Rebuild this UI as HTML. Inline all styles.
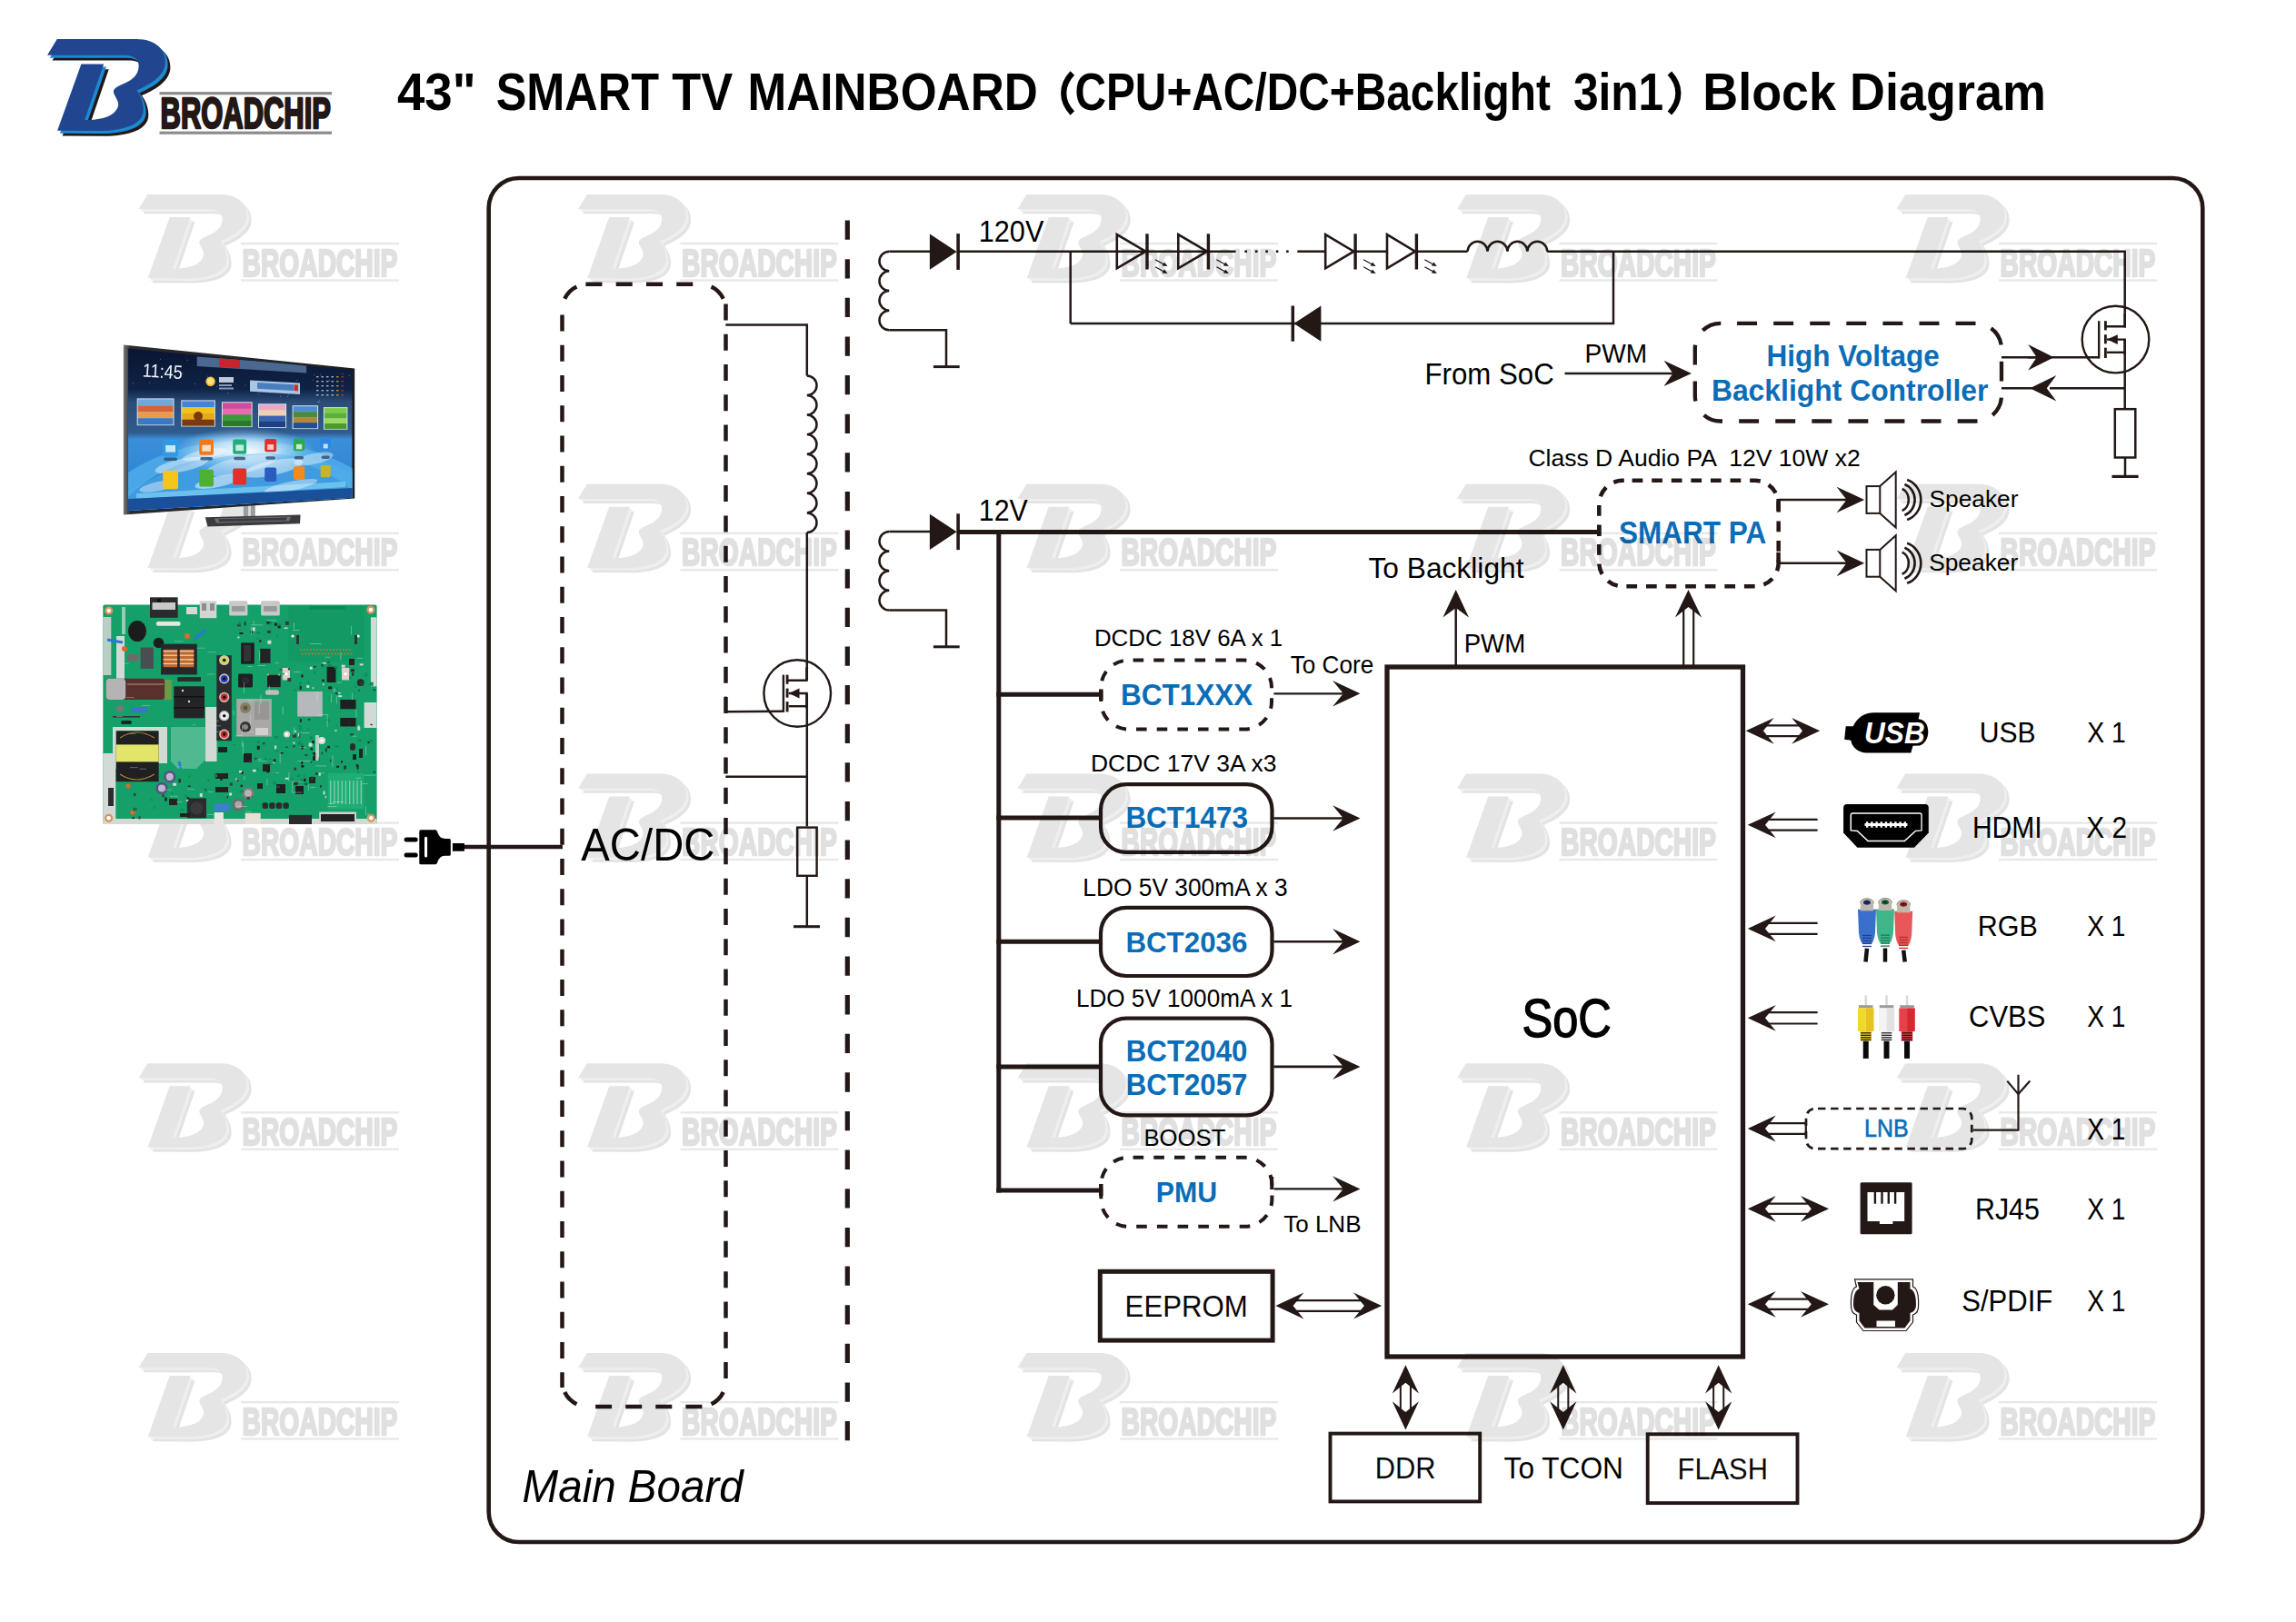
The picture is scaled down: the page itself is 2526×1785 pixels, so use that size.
<!DOCTYPE html><html><head><meta charset="utf-8"><style>html,body{margin:0;padding:0;background:#fff;width:2526px;height:1785px;overflow:hidden}svg{display:block}</style></head><body>
<svg width="2526" height="1785" viewBox="0 0 2526 1785" font-family="Liberation Sans, sans-serif">
<rect width="2526" height="1785" fill="#fff"/>
<defs>
<path id="bp" d="M240,110 L1420,110 C1700,110 1850,260 1850,450 C1850,640 1660,770 1425,870 C1490,960 1525,1060 1525,1160 C1525,1370 1260,1475 850,1475 L245,1470 L600,480 L935,480 L650,1315 C900,1315 1110,1260 1150,1100 C1165,1020 1080,950 1080,890 C1080,830 1180,800 1290,745 C1410,680 1455,600 1455,500 C1455,420 1380,350 1250,350 L95,350 Z"/>
<g id="wm">
<g transform="scale(0.067857) translate(-240,-110)">
<use href="#bp" transform="translate(75,75)" fill="#e3e3e3"/>
<use href="#bp" transform="translate(38,38)" fill="#efefef"/>
<use href="#bp" fill="#e5e5e5"/>
</g>
<rect x="102.7" y="53" width="174" height="2.4" fill="#e8e8e8"/>
<rect x="102.7" y="93.4" width="174" height="2.4" fill="#e8e8e8"/>
</g>
</defs>
<g transform="translate(62.75,43.1) scale(0.073964) translate(-240,-110)">
<use href="#bp" transform="translate(75,78)" fill="#231815"/>
<use href="#bp" transform="translate(38,40)" fill="#1b8ad2"/>
<use href="#bp" fill="#21468f"/>
</g>
<rect x="175.5" y="101.1" width="189.5" height="3.2" fill="#8c8c8c"/>
<rect x="175.5" y="144.6" width="189.5" height="3.2" fill="#8c8c8c"/>
<text x="176.6" y="141.3" font-size="47.384" font-weight="bold" font-style="normal" fill="#231815" textLength="187.29" lengthAdjust="spacingAndGlyphs" style="white-space:pre" stroke="#231815" stroke-width="2.6" stroke-linejoin="round">BROADCHIP</text>
<text x="437" y="121.2" font-size="57.413" font-weight="bold" font-style="normal" fill="#000" textLength="86.624" lengthAdjust="spacingAndGlyphs" style="white-space:pre">43&quot;</text>
<text x="545.7" y="121.2" font-size="57.413" font-weight="bold" font-style="normal" fill="#000" textLength="179.31" lengthAdjust="spacingAndGlyphs" style="white-space:pre">SMART</text>
<text x="739.3" y="121.2" font-size="57.413" font-weight="bold" font-style="normal" fill="#000" textLength="66.892" lengthAdjust="spacingAndGlyphs" style="white-space:pre">TV</text>
<text x="822.5" y="121.2" font-size="57.413" font-weight="bold" font-style="normal" fill="#000" textLength="319.285" lengthAdjust="spacingAndGlyphs" style="white-space:pre">MAINBOARD</text>
<path d="M1179.8,80.5 C1167,94 1167,111 1179.8,124.5" fill="none" stroke="#000" stroke-width="6.2"/>
<text x="1182.4" y="121.2" font-size="57.413" font-weight="bold" font-style="normal" fill="#000" textLength="523.592" lengthAdjust="spacingAndGlyphs" style="white-space:pre">CPU+AC/DC+Backlight</text>
<text x="1730.9" y="121.2" font-size="57.413" font-weight="bold" font-style="normal" fill="#000" textLength="99.299" lengthAdjust="spacingAndGlyphs" style="white-space:pre">3in1</text>
<path d="M1836.9,80.5 C1849.5,94 1849.5,111 1836.9,124.5" fill="none" stroke="#000" stroke-width="6.2"/>
<text x="1873.2" y="121.2" font-size="57.413" font-weight="bold" font-style="normal" fill="#000" textLength="377.824" lengthAdjust="spacingAndGlyphs" style="white-space:pre">Block Diagram</text>
<path d="M570.7,196 H2390.3 A33,33 0 0 1 2423.3,229 V1664 A33,33 0 0 1 2390.3,1697 H570.7 A33,33 0 0 1 537.7,1664 V229 A33,33 0 0 1 570.7,196 Z" fill="none" stroke="#231815" stroke-width="4.6"/>
<text x="574" y="1653.4" font-size="1" fill="none"> </text>
<text x="574.6" y="1653.4" font-size="50" font-weight="normal" font-style="italic" fill="#000" textLength="243.108" lengthAdjust="spacingAndGlyphs" style="white-space:pre">Main Board</text>
<line x1="644.4" y1="312.8" x2="772" y2="312.8" stroke="#231815" stroke-width="4.5" stroke-dasharray="18 15.3"/>
<line x1="798.5" y1="334.5" x2="798.5" y2="1522" stroke="#231815" stroke-width="4.5" stroke-dasharray="18 15.27"/>
<line x1="618.5" y1="346.4" x2="618.5" y2="1527" stroke="#231815" stroke-width="4.5" stroke-dasharray="18 15.25"/>
<line x1="655.1" y1="1548" x2="775" y2="1548" stroke="#231815" stroke-width="4.5" stroke-dasharray="18 15.1"/>
<path d="M621.24,328.719 A28,28 0 0 1 634.419,315.54" fill="none" stroke="#231815" stroke-width="4.5"/>
<path d="M782.581,315.54 A28,28 0 0 1 795.76,328.719" fill="none" stroke="#231815" stroke-width="4.5"/>
<path d="M795.76,1532.081 A28,28 0 0 1 782.581,1545.26" fill="none" stroke="#231815" stroke-width="4.5"/>
<path d="M634.419,1545.26 A28,28 0 0 1 621.24,1532.081" fill="none" stroke="#231815" stroke-width="4.5"/>
<text x="639.3" y="947.3" font-size="50.727" font-weight="normal" font-style="normal" fill="#000" textLength="147.216" lengthAdjust="spacingAndGlyphs" style="white-space:pre">AC/DC</text>
<line x1="932.3" y1="242.5" x2="932.3" y2="1590.8" stroke="#231815" stroke-width="5.2" stroke-dasharray="21.3 21.33"/>
<line x1="508" y1="932.1" x2="618.9" y2="932.1" stroke="#231815" stroke-width="4.5"/>
<polyline points="798.3,357.6 887.8,357.6 887.8,413.4" fill="none" stroke="#231815" stroke-width="2.5"/>
<path d="M887.8,413.4 A10.788,10.788 0 0 1 887.8,434.975 A10.788,10.788 0 0 1 887.8,456.55 A10.788,10.788 0 0 1 887.8,478.125 A10.788,10.788 0 0 1 887.8,499.7 A10.788,10.788 0 0 1 887.8,521.275 A10.788,10.788 0 0 1 887.8,542.85 A10.788,10.788 0 0 1 887.8,564.425 A10.788,10.788 0 0 1 887.8,586" fill="none" stroke="#231815" stroke-width="2.5"/>
<line x1="887.8" y1="586" x2="887.8" y2="748.9" stroke="#231815" stroke-width="2.5"/>
<circle cx="877.2" cy="763" r="36.8" fill="none" stroke="#231815" stroke-width="2.4"/>
<polyline points="887.4,734.4 887.4,748.7 866.4,748.7" fill="none" stroke="#231815" stroke-width="2.4"/>
<line x1="866.1" y1="742.6" x2="866.1" y2="752.8" stroke="#231815" stroke-width="2.8"/>
<line x1="866.1" y1="757.6" x2="866.1" y2="767.7" stroke="#231815" stroke-width="2.8"/>
<line x1="866.1" y1="772.1" x2="866.1" y2="783.4" stroke="#231815" stroke-width="2.8"/>
<line x1="861.9" y1="742.6" x2="861.9" y2="783.9" stroke="#231815" stroke-width="2.4"/>
<polyline points="867.7,763 887.4,763 887.4,779.4" fill="none" stroke="#231815" stroke-width="2.4"/>
<polygon points="867.9,763 879.5,757.6 879.5,768.4" fill="#231815"/>
<line x1="867.7" y1="777.2" x2="887.4" y2="777.2" stroke="#231815" stroke-width="2.4"/>
<polyline points="861.9,782.7 798.3,783.2 798.3,766.4" fill="none" stroke="#231815" stroke-width="2.4"/>
<line x1="887.8" y1="762.5" x2="887.8" y2="909.4" stroke="#231815" stroke-width="2.5"/>
<line x1="798.3" y1="854.8" x2="887.8" y2="854.8" stroke="#231815" stroke-width="2.5"/>
<rect x="877.2" y="910.6" width="21.4" height="53.2" fill="none" stroke="#231815" stroke-width="2.4"/>
<line x1="887.8" y1="963.7" x2="887.8" y2="1019.7" stroke="#231815" stroke-width="2.5"/>
<line x1="873" y1="1019.7" x2="902" y2="1019.7" stroke="#231815" stroke-width="3"/>
<path d="M978.3,276.7 A10.825,10.825 0 0 0 978.3,298.35 A10.825,10.825 0 0 0 978.3,320 A10.825,10.825 0 0 0 978.3,341.65 A10.825,10.825 0 0 0 978.3,363.3" fill="none" stroke="#231815" stroke-width="2.5"/>
<polyline points="978.3,363.3 1041,363.3 1041,403.6" fill="none" stroke="#231815" stroke-width="2.5"/>
<line x1="1026.9" y1="403.6" x2="1055.7" y2="403.6" stroke="#231815" stroke-width="3"/>
<line x1="978.3" y1="276.7" x2="1025" y2="276.7" stroke="#231815" stroke-width="2.5"/>
<polygon points="1022.9,257.5 1022.9,296.7 1052.6,277.1" fill="#231815"/>
<line x1="1054.1" y1="257.1" x2="1054.1" y2="296.9" stroke="#231815" stroke-width="3.6"/>
<text x="1076.8" y="266.4" font-size="32.413" font-weight="normal" font-style="normal" fill="#000" textLength="71.514" lengthAdjust="spacingAndGlyphs" style="white-space:pre">120V</text>
<path d="M978.3,584.9 A10.825,10.825 0 0 0 978.3,606.55 A10.825,10.825 0 0 0 978.3,628.2 A10.825,10.825 0 0 0 978.3,649.85 A10.825,10.825 0 0 0 978.3,671.5" fill="none" stroke="#231815" stroke-width="2.5"/>
<polyline points="978.3,671.5 1041,671.5 1041,711.8" fill="none" stroke="#231815" stroke-width="2.5"/>
<line x1="1026.9" y1="711.8" x2="1055.7" y2="711.8" stroke="#231815" stroke-width="3"/>
<line x1="978.3" y1="584.9" x2="1025" y2="584.9" stroke="#231815" stroke-width="2.5"/>
<polygon points="1022.9,565.7 1022.9,604.9 1052.6,585.3" fill="#231815"/>
<line x1="1054.1" y1="565.3" x2="1054.1" y2="605.1" stroke="#231815" stroke-width="3.6"/>
<text x="1076.8" y="572.7" font-size="32.413" font-weight="normal" font-style="normal" fill="#000" textLength="53.909" lengthAdjust="spacingAndGlyphs" style="white-space:pre">12V</text>
<line x1="1054" y1="276.7" x2="1359.5" y2="276.7" stroke="#231815" stroke-width="2.5"/>
<line x1="1177.7" y1="276.7" x2="1177.7" y2="356.1" stroke="#231815" stroke-width="2.5"/>
<polygon points="1228.8,258.1 1228.8,295.3 1260.4,276.7" fill="none" stroke="#231815" stroke-width="2.6" stroke-linejoin="miter"/>
<line x1="1262" y1="257.3" x2="1262" y2="296.5" stroke="#231815" stroke-width="3.4"/>
<line x1="1271" y1="285.7" x2="1282" y2="291.7" stroke="#231815" stroke-width="1.3"/>
<polygon points="1284.5,293.1 1278.5,292.5 1281,288.5" fill="#231815"/>
<line x1="1271" y1="293.7" x2="1282" y2="299.7" stroke="#231815" stroke-width="1.3"/>
<polygon points="1284.5,301.1 1278.5,300.5 1281,296.5" fill="#231815"/>
<polygon points="1296.3,258.1 1296.3,295.3 1328,276.7" fill="none" stroke="#231815" stroke-width="2.6" stroke-linejoin="miter"/>
<line x1="1329.4" y1="257.3" x2="1329.4" y2="296.5" stroke="#231815" stroke-width="3.4"/>
<line x1="1338.4" y1="285.7" x2="1349.4" y2="291.7" stroke="#231815" stroke-width="1.3"/>
<polygon points="1351.9,293.1 1345.9,292.5 1348.4,288.5" fill="#231815"/>
<line x1="1338.4" y1="293.7" x2="1349.4" y2="299.7" stroke="#231815" stroke-width="1.3"/>
<polygon points="1351.9,301.1 1345.9,300.5 1348.4,296.5" fill="#231815"/>
<rect x="1369.4" y="275.4" width="2.6" height="2.6" fill="#231815"/>
<rect x="1380.9" y="275.4" width="2.6" height="2.6" fill="#231815"/>
<rect x="1392.3" y="275.4" width="2.6" height="2.6" fill="#231815"/>
<rect x="1403.8" y="275.4" width="2.6" height="2.6" fill="#231815"/>
<rect x="1415.1" y="275.4" width="2.6" height="2.6" fill="#231815"/>
<line x1="1427.3" y1="276.7" x2="1458.2" y2="276.7" stroke="#231815" stroke-width="2.5"/>
<polygon points="1458.2,258.1 1458.2,295.3 1489.4,276.7" fill="none" stroke="#231815" stroke-width="2.6" stroke-linejoin="miter"/>
<line x1="1491.1" y1="257.3" x2="1491.1" y2="296.5" stroke="#231815" stroke-width="3.4"/>
<line x1="1500.1" y1="285.7" x2="1511.1" y2="291.7" stroke="#231815" stroke-width="1.3"/>
<polygon points="1513.6,293.1 1507.6,292.5 1510.1,288.5" fill="#231815"/>
<line x1="1500.1" y1="293.7" x2="1511.1" y2="299.7" stroke="#231815" stroke-width="1.3"/>
<polygon points="1513.6,301.1 1507.6,300.5 1510.1,296.5" fill="#231815"/>
<line x1="1491.1" y1="276.7" x2="1526" y2="276.7" stroke="#231815" stroke-width="2.5"/>
<polygon points="1526,258.1 1526,295.3 1556.9,276.7" fill="none" stroke="#231815" stroke-width="2.6" stroke-linejoin="miter"/>
<line x1="1558.4" y1="257.3" x2="1558.4" y2="296.5" stroke="#231815" stroke-width="3.4"/>
<line x1="1567.4" y1="285.7" x2="1578.4" y2="291.7" stroke="#231815" stroke-width="1.3"/>
<polygon points="1580.9,293.1 1574.9,292.5 1577.4,288.5" fill="#231815"/>
<line x1="1567.4" y1="293.7" x2="1578.4" y2="299.7" stroke="#231815" stroke-width="1.3"/>
<polygon points="1580.9,301.1 1574.9,300.5 1577.4,296.5" fill="#231815"/>
<line x1="1558.4" y1="276.7" x2="1614.6" y2="276.7" stroke="#231815" stroke-width="2.5"/>
<path d="M1614.6,276.7 A10.963,10.963 0 0 1 1636.525,276.7 A10.963,10.963 0 0 1 1658.45,276.7 A10.963,10.963 0 0 1 1680.375,276.7 A10.963,10.963 0 0 1 1702.3,276.7" fill="none" stroke="#231815" stroke-width="2.5"/>
<polyline points="1702.3,276.7 2337.7,276.7 2337.7,360.5" fill="none" stroke="#231815" stroke-width="2.5"/>
<polyline points="1177.7,356.1 1775,356.1 1775,276.7" fill="none" stroke="#231815" stroke-width="2.5"/>
<polygon points="1423.5,356.1 1453.4,336.5 1453.4,375.7" fill="#231815"/>
<line x1="1422.3" y1="336.5" x2="1422.3" y2="375.7" stroke="#231815" stroke-width="3.5"/>
<circle cx="2327.5" cy="373.6" r="36.8" fill="none" stroke="#231815" stroke-width="2.4"/>
<polyline points="2337.7,345 2337.7,359.3 2316.7,359.3" fill="none" stroke="#231815" stroke-width="2.4"/>
<line x1="2316.4" y1="353.2" x2="2316.4" y2="363.4" stroke="#231815" stroke-width="2.8"/>
<line x1="2316.4" y1="368.2" x2="2316.4" y2="378.3" stroke="#231815" stroke-width="2.8"/>
<line x1="2316.4" y1="382.7" x2="2316.4" y2="394" stroke="#231815" stroke-width="2.8"/>
<line x1="2309.2" y1="353.2" x2="2309.2" y2="394.5" stroke="#231815" stroke-width="2.4"/>
<polyline points="2318,373.6 2337.7,373.6 2337.7,390" fill="none" stroke="#231815" stroke-width="2.4"/>
<polygon points="2318.2,373.6 2329.8,368.2 2329.8,379" fill="#231815"/>
<line x1="2318" y1="387.8" x2="2337.7" y2="387.8" stroke="#231815" stroke-width="2.4"/>
<line x1="2309.2" y1="393.3" x2="2231" y2="393.3" stroke="#231815" stroke-width="2.5"/>
<polygon points="2259.7,393.3 2231.2,379 2240.7,393.3 2231.2,407.6" fill="#231815"/>
<line x1="2202" y1="393.3" x2="2240" y2="393.3" stroke="#231815" stroke-width="2.5"/>
<line x1="2337.7" y1="373.6" x2="2337.7" y2="450.2" stroke="#231815" stroke-width="2.5"/>
<line x1="2337.7" y1="427.2" x2="2255" y2="427.2" stroke="#231815" stroke-width="2.5"/>
<polygon points="2233.2,427.2 2262.4,441.4 2251.8,427.2 2262.4,413" fill="#231815"/>
<line x1="2202" y1="427.2" x2="2236" y2="427.2" stroke="#231815" stroke-width="2.5"/>
<rect x="2326.8" y="450.2" width="22.5" height="53.3" fill="none" stroke="#231815" stroke-width="2.5"/>
<line x1="2338" y1="503.5" x2="2338" y2="524.4" stroke="#231815" stroke-width="2.5"/>
<line x1="2323.5" y1="524.4" x2="2352.6" y2="524.4" stroke="#231815" stroke-width="3.2"/>
<path d="M1911.1,355.8 H2174 A28,28 0 0 1 2202,383.8 V435.5 A28,28 0 0 1 2174,463.5 H1892.8 A28,28 0 0 1 1864.8,435.5 V383.8 A28,28 0 0 1 1892.8,355.8 Z" fill="none" stroke="#231815" stroke-width="4.3" stroke-dasharray="21.936 18.147"/>
<text x="1943.5" y="402.5" font-size="33.285" font-weight="bold" font-style="normal" fill="#0b6db7" textLength="190.404" lengthAdjust="spacingAndGlyphs" style="white-space:pre">High Voltage</text>
<text x="1882.9" y="440.6" font-size="33.285" font-weight="bold" font-style="normal" fill="#0b6db7" textLength="304.49" lengthAdjust="spacingAndGlyphs" style="white-space:pre">Backlight Controller</text>
<text x="1567.5" y="423.1" font-size="33.285" font-weight="normal" font-style="normal" fill="#000" textLength="142.306" lengthAdjust="spacingAndGlyphs" style="white-space:pre">From SoC</text>
<text x="1743.6" y="398.7" font-size="30.378" font-weight="normal" font-style="normal" fill="#000" textLength="68.596" lengthAdjust="spacingAndGlyphs" style="white-space:pre">PWM</text>
<line x1="1721.5" y1="410.9" x2="1845" y2="410.9" stroke="#231815" stroke-width="2.5"/>
<polygon points="1861,410.9 1830.5,396.8 1840.5,410.9 1830.5,425" fill="#231815"/>
<line x1="1054" y1="585.4" x2="1759.3" y2="585.4" stroke="#231815" stroke-width="5"/>
<line x1="1098.8" y1="582.9" x2="1098.8" y2="1312.6" stroke="#231815" stroke-width="5"/>
<line x1="1096.3" y1="764.3" x2="1211.3" y2="764.3" stroke="#231815" stroke-width="5"/>
<line x1="1096.3" y1="899.9" x2="1211" y2="899.9" stroke="#231815" stroke-width="5"/>
<line x1="1096.3" y1="1036.2" x2="1211" y2="1036.2" stroke="#231815" stroke-width="5"/>
<line x1="1096.3" y1="1173.9" x2="1211" y2="1173.9" stroke="#231815" stroke-width="5"/>
<line x1="1096.3" y1="1310.1" x2="1211.3" y2="1310.1" stroke="#231815" stroke-width="5"/>
<path d="M1246.6,726.6 H1369 A30,30 0 0 1 1399,756.6 V772.5 A30,30 0 0 1 1369,802.5 H1241.3 A30,30 0 0 1 1211.3,772.5 V756.6 A30,30 0 0 1 1241.3,726.6 Z" fill="none" stroke="#231815" stroke-width="4" stroke-dasharray="11.571 11.081"/>
<line x1="1211.3" y1="758.4" x2="1211.3" y2="770.2" stroke="#231815" stroke-width="4.5"/>
<rect x="1211" y="863.2" width="188.5" height="74.7" rx="28" fill="none" stroke="#231815" stroke-width="4.2"/>
<rect x="1211" y="998.9" width="188.5" height="75.1" rx="28" fill="none" stroke="#231815" stroke-width="4.2"/>
<rect x="1211" y="1120.6" width="188.5" height="106.8" rx="28" fill="none" stroke="#231815" stroke-width="4.2"/>
<path d="M1246.6,1273.8 H1369.4 A30,30 0 0 1 1399.4,1303.8 V1319.8 A30,30 0 0 1 1369.4,1349.8 H1241.3 A30,30 0 0 1 1211.3,1319.8 V1303.8 A30,30 0 0 1 1241.3,1273.8 Z" fill="none" stroke="#231815" stroke-width="4" stroke-dasharray="11.596 11.104"/>
<line x1="1211.3" y1="1303" x2="1211.3" y2="1316" stroke="#231815" stroke-width="4.5"/>
<text x="1232.9" y="776" font-size="32.703" font-weight="bold" font-style="normal" fill="#0b6db7" textLength="145.411" lengthAdjust="spacingAndGlyphs" style="white-space:pre">BCT1XXX</text>
<text x="1238.4" y="911.3" font-size="32.849" font-weight="bold" font-style="normal" fill="#0b6db7" textLength="134.594" lengthAdjust="spacingAndGlyphs" style="white-space:pre">BCT1473</text>
<text x="1238.4" y="1048.2" font-size="32.267" font-weight="bold" font-style="normal" fill="#0b6db7" textLength="133.994" lengthAdjust="spacingAndGlyphs" style="white-space:pre">BCT2036</text>
<text x="1238.8" y="1167.6" font-size="33.285" font-weight="bold" font-style="normal" fill="#0b6db7" textLength="133.594" lengthAdjust="spacingAndGlyphs" style="white-space:pre">BCT2040</text>
<text x="1238.8" y="1205.4" font-size="33.285" font-weight="bold" font-style="normal" fill="#0b6db7" textLength="133.594" lengthAdjust="spacingAndGlyphs" style="white-space:pre">BCT2057</text>
<text x="1271.7" y="1323.4" font-size="31.831" font-weight="bold" font-style="normal" fill="#0b6db7" textLength="67.406" lengthAdjust="spacingAndGlyphs" style="white-space:pre">PMU</text>
<text x="1203.9" y="711.4" font-size="25.727" font-weight="normal" font-style="normal" fill="#000" textLength="207.312" lengthAdjust="spacingAndGlyphs" style="white-space:pre">DCDC 18V 6A x 1</text>
<text x="1200" y="849" font-size="26.308" font-weight="normal" font-style="normal" fill="#000" textLength="204.39" lengthAdjust="spacingAndGlyphs" style="white-space:pre">DCDC 17V 3A x3</text>
<text x="1191.3" y="986.4" font-size="27.035" font-weight="normal" font-style="normal" fill="#000" textLength="225.402" lengthAdjust="spacingAndGlyphs" style="white-space:pre">LDO 5V 300mA x 3</text>
<text x="1183.9" y="1108.3" font-size="27.035" font-weight="normal" font-style="normal" fill="#000" textLength="238.107" lengthAdjust="spacingAndGlyphs" style="white-space:pre">LDO 5V 1000mA x 1</text>
<text x="1258.4" y="1261.1" font-size="26.163" font-weight="normal" font-style="normal" fill="#000" textLength="90.087" lengthAdjust="spacingAndGlyphs" style="white-space:pre">BOOST</text>
<text x="1419.7" y="741.2" font-size="26.89" font-weight="normal" font-style="normal" fill="#000" textLength="91.513" lengthAdjust="spacingAndGlyphs" style="white-space:pre">To Core</text>
<text x="1412.2" y="1356.4" font-size="26.599" font-weight="normal" font-style="normal" fill="#000" textLength="85.308" lengthAdjust="spacingAndGlyphs" style="white-space:pre">To LNB</text>
<line x1="1401.4" y1="763.3" x2="1480" y2="763.3" stroke="#231815" stroke-width="2.2"/>
<polygon points="1496.5,763.3 1466.1,749.1 1477.9,763.3 1466.1,777.5" fill="#231815"/>
<line x1="1401.4" y1="900.5" x2="1480" y2="900.5" stroke="#231815" stroke-width="2.6"/>
<polygon points="1496.5,900.5 1466.1,886.3 1477.9,900.5 1466.1,914.7" fill="#231815"/>
<line x1="1401.4" y1="1036.2" x2="1480" y2="1036.2" stroke="#231815" stroke-width="2.6"/>
<polygon points="1496.5,1036.2 1466.1,1022 1477.9,1036.2 1466.1,1050.4" fill="#231815"/>
<line x1="1401.4" y1="1173.9" x2="1480" y2="1173.9" stroke="#231815" stroke-width="2.6"/>
<polygon points="1496.5,1173.9 1466.1,1159.7 1477.9,1173.9 1466.1,1188.1" fill="#231815"/>
<line x1="1401.4" y1="1308.4" x2="1480" y2="1308.4" stroke="#231815" stroke-width="2.4"/>
<polygon points="1496.5,1308.4 1466.1,1294.2 1477.9,1308.4 1466.1,1322.6" fill="#231815"/>
<line x1="1399.2" y1="1295" x2="1399.2" y2="1309" stroke="#231815" stroke-width="4"/>
<rect x="1210.3" y="1399.3" width="189.8" height="75.8" fill="none" stroke="#231815" stroke-width="5"/>
<text x="1237.6" y="1449.4" font-size="33.576" font-weight="normal" font-style="normal" fill="#0a0a0a" textLength="135.2" lengthAdjust="spacingAndGlyphs" style="white-space:pre">EEPROM</text>
<polygon points="1403.4,1437 1434.4,1451.4 1422.6,1437 1434.4,1422.6" fill="#231815"/>
<polygon points="1520.1,1437 1489.1,1422.6 1500.9,1437 1489.1,1451.4" fill="#231815"/>
<line x1="1419.224" y1="1431.2" x2="1501.9" y2="1431.2" stroke="#231815" stroke-width="2.2"/>
<line x1="1419.224" y1="1442.8" x2="1501.9" y2="1442.8" stroke="#231815" stroke-width="2.2"/>
<rect x="1526" y="734" width="391.5" height="759" fill="none" stroke="#231815" stroke-width="5.3"/>
<text x="1674.4" y="1140.6" font-size="59.593" font-weight="normal" font-style="normal" fill="#000" textLength="98.517" lengthAdjust="spacingAndGlyphs" style="white-space:pre" stroke="#000" stroke-width="1.4">SoC</text>
<line x1="1601.7" y1="733" x2="1601.7" y2="665" stroke="#231815" stroke-width="2.5"/>
<polygon points="1601.7,649.1 1587.4,679.4 1601.7,668.9 1616,679.4" fill="#231815"/>
<text x="1610.7" y="718.1" font-size="28.779" font-weight="normal" font-style="normal" fill="#000" textLength="67.496" lengthAdjust="spacingAndGlyphs" style="white-space:pre">PWM</text>
<text x="1505.5" y="635.5" font-size="31.831" font-weight="normal" font-style="normal" fill="#000" textLength="170.988" lengthAdjust="spacingAndGlyphs" style="white-space:pre">To Backlight</text>
<line x1="1852.2" y1="733" x2="1852.2" y2="670" stroke="#231815" stroke-width="2.2"/>
<line x1="1863.2" y1="733" x2="1863.2" y2="670" stroke="#231815" stroke-width="2.2"/>
<polygon points="1857.5,649.1 1842.9,679.4 1857.5,667.9 1872.1,679.4" fill="#231815"/>
<rect x="1463.5" y="1577.6" width="164.7" height="74.8" fill="none" stroke="#231815" stroke-width="3.9"/>
<rect x="1812.7" y="1578.3" width="164.8" height="75.8" fill="none" stroke="#231815" stroke-width="3.9"/>
<text x="1512.7" y="1627" font-size="32.849" font-weight="normal" font-style="normal" fill="#0a0a0a" textLength="66.785" lengthAdjust="spacingAndGlyphs" style="white-space:pre">DDR</text>
<text x="1845.6" y="1628.3" font-size="32.994" font-weight="normal" font-style="normal" fill="#0a0a0a" textLength="99.305" lengthAdjust="spacingAndGlyphs" style="white-space:pre">FLASH</text>
<text x="1654.6" y="1627" font-size="32.849" font-weight="normal" font-style="normal" fill="#000" textLength="131.298" lengthAdjust="spacingAndGlyphs" style="white-space:pre">To TCON</text>
<polygon points="1546.4,1502.3 1531.8,1533.5 1546.4,1521.7 1561,1533.5" fill="#231815"/>
<polygon points="1546.4,1573.5 1561,1542.3 1546.4,1554.1 1531.8,1542.3" fill="#231815"/>
<line x1="1540.85" y1="1519.7" x2="1540.85" y2="1556.1" stroke="#231815" stroke-width="2"/>
<line x1="1551.95" y1="1519.7" x2="1551.95" y2="1556.1" stroke="#231815" stroke-width="2"/>
<polygon points="1719.8,1502.3 1705.2,1533.5 1719.8,1521.7 1734.4,1533.5" fill="#231815"/>
<polygon points="1719.8,1573.5 1734.4,1542.3 1719.8,1554.1 1705.2,1542.3" fill="#231815"/>
<line x1="1714.25" y1="1519.7" x2="1714.25" y2="1556.1" stroke="#231815" stroke-width="2"/>
<line x1="1725.35" y1="1519.7" x2="1725.35" y2="1556.1" stroke="#231815" stroke-width="2"/>
<polygon points="1890.7,1502.3 1876.1,1533.5 1890.7,1521.7 1905.3,1533.5" fill="#231815"/>
<polygon points="1890.7,1573.5 1905.3,1542.3 1890.7,1554.1 1876.1,1542.3" fill="#231815"/>
<line x1="1885.15" y1="1519.7" x2="1885.15" y2="1556.1" stroke="#231815" stroke-width="2"/>
<line x1="1896.25" y1="1519.7" x2="1896.25" y2="1556.1" stroke="#231815" stroke-width="2"/>
<path d="M1795.6,528.8 H1930.7 A26,26 0 0 1 1956.7,554.8 V619.2 A26,26 0 0 1 1930.7,645.2 H1785.3 A26,26 0 0 1 1759.3,619.2 V554.8 A26,26 0 0 1 1785.3,528.8 Z" fill="none" stroke="#231815" stroke-width="4.5" stroke-dasharray="11.741 9.85"/>
<line x1="1759.3" y1="578" x2="1759.3" y2="590" stroke="#231815" stroke-width="4.5"/>
<text x="1781.1" y="597.6" font-size="34.157" font-weight="bold" font-style="normal" fill="#0b6db7" textLength="162.2" lengthAdjust="spacingAndGlyphs" style="white-space:pre">SMART PA</text>
<text x="1681.4" y="513.4" font-size="25.872" font-weight="normal" font-style="normal" fill="#000" textLength="365.305" lengthAdjust="spacingAndGlyphs" style="white-space:pre">Class D Audio PA  12V 10W x2</text>
<line x1="1956.6" y1="550" x2="2035" y2="550" stroke="#231815" stroke-width="2.5"/>
<polygon points="2051.2,550 2020.6,535.65 2031.6,550 2020.6,564.35" fill="#231815"/>
<line x1="1956.6" y1="549" x2="1956.6" y2="562" stroke="#231815" stroke-width="4.5"/>
<rect x="2053.5" y="535.1" width="14.8" height="29.8" fill="none" stroke="#231815" stroke-width="2"/>
<polyline points="2068.3,535.1 2085.7,519.5 2085.7,580.5 2068.3,564.9" fill="none" stroke="#231815" stroke-width="2"/>
<path d="M2092.65,538 A10.35,12.6 0 0 1 2092.65,562" fill="none" stroke="#231815" stroke-width="2.6"/>
<path d="M2095.4,533 A16.1,17.85 0 0 1 2095.4,567" fill="none" stroke="#231815" stroke-width="2.6"/>
<path d="M2098.15,528 A21.85,23.1 0 0 1 2098.15,572" fill="none" stroke="#231815" stroke-width="2.6"/>
<line x1="1956.6" y1="619.8" x2="2035" y2="619.8" stroke="#231815" stroke-width="2.5"/>
<polygon points="2051.2,619.8 2020.6,605.45 2031.6,619.8 2020.6,634.15" fill="#231815"/>
<line x1="1956.6" y1="618.8" x2="1956.6" y2="607.8" stroke="#231815" stroke-width="4.5"/>
<rect x="2053.5" y="604.9" width="14.8" height="29.8" fill="none" stroke="#231815" stroke-width="2"/>
<polyline points="2068.3,604.9 2085.7,589.3 2085.7,650.3 2068.3,634.7" fill="none" stroke="#231815" stroke-width="2"/>
<path d="M2092.65,607.8 A10.35,12.6 0 0 1 2092.65,631.8" fill="none" stroke="#231815" stroke-width="2.6"/>
<path d="M2095.4,602.8 A16.1,17.85 0 0 1 2095.4,636.8" fill="none" stroke="#231815" stroke-width="2.6"/>
<path d="M2098.15,597.8 A21.85,23.1 0 0 1 2098.15,641.8" fill="none" stroke="#231815" stroke-width="2.6"/>
<text x="2122.5" y="557.9" font-size="26.599" font-weight="normal" font-style="normal" fill="#000" textLength="97.991" lengthAdjust="spacingAndGlyphs" style="white-space:pre">Speaker</text>
<text x="2122.2" y="627.6" font-size="26.599" font-weight="normal" font-style="normal" fill="#000" textLength="97.991" lengthAdjust="spacingAndGlyphs" style="white-space:pre">Speaker</text>
<polygon points="1920.7,804.3 1951.7,818.7 1939.9,804.3 1951.7,789.9" fill="#231815"/>
<polygon points="2002.2,804.3 1971.2,789.9 1983,804.3 1971.2,818.7" fill="#231815"/>
<line x1="1936.503" y1="798.45" x2="1984" y2="798.45" stroke="#231815" stroke-width="2.2"/>
<line x1="1936.503" y1="810.15" x2="1984" y2="810.15" stroke="#231815" stroke-width="2.2"/>
<text x="2177.8" y="817.2" font-size="31.977" font-weight="normal" font-style="normal" fill="#000" textLength="61.905" lengthAdjust="spacingAndGlyphs" style="white-space:pre">USB</text>
<text x="2296.3" y="817.2" font-size="31.977" font-weight="normal" font-style="normal" fill="#000" textLength="42.6" lengthAdjust="spacingAndGlyphs" style="white-space:pre">X 1</text>
<polygon points="1922.8,907.8 1953.8,922.2 1942,907.8 1953.8,893.4" fill="#231815"/>
<line x1="1938.603" y1="901.95" x2="1999.6" y2="901.95" stroke="#231815" stroke-width="2.2"/>
<line x1="1938.603" y1="913.65" x2="1999.6" y2="913.65" stroke="#231815" stroke-width="2.2"/>
<text x="2169.9" y="922.2" font-size="32.558" font-weight="normal" font-style="normal" fill="#000" textLength="76.806" lengthAdjust="spacingAndGlyphs" style="white-space:pre">HDMI</text>
<text x="2295.2" y="922.2" font-size="32.558" font-weight="normal" font-style="normal" fill="#000" textLength="44.8" lengthAdjust="spacingAndGlyphs" style="white-space:pre">X 2</text>
<polygon points="1922.8,1021.9 1953.8,1036.3 1942,1021.9 1953.8,1007.5" fill="#231815"/>
<line x1="1938.542" y1="1015.9" x2="1999.6" y2="1015.9" stroke="#231815" stroke-width="2.2"/>
<line x1="1938.542" y1="1027.9" x2="1999.6" y2="1027.9" stroke="#231815" stroke-width="2.2"/>
<text x="2175.7" y="1030" font-size="31.977" font-weight="normal" font-style="normal" fill="#000" textLength="66.1" lengthAdjust="spacingAndGlyphs" style="white-space:pre">RGB</text>
<text x="2296.3" y="1030" font-size="31.977" font-weight="normal" font-style="normal" fill="#000" textLength="42.2" lengthAdjust="spacingAndGlyphs" style="white-space:pre">X 1</text>
<polygon points="1922.8,1120.3 1953.8,1134.7 1942,1120.3 1953.8,1105.9" fill="#231815"/>
<line x1="1938.46" y1="1114.1" x2="1999.6" y2="1114.1" stroke="#231815" stroke-width="2.2"/>
<line x1="1938.46" y1="1126.5" x2="1999.6" y2="1126.5" stroke="#231815" stroke-width="2.2"/>
<text x="2166.1" y="1129.7" font-size="33.285" font-weight="normal" font-style="normal" fill="#000" textLength="84.305" lengthAdjust="spacingAndGlyphs" style="white-space:pre">CVBS</text>
<text x="2296.3" y="1129.7" font-size="32.558" font-weight="normal" font-style="normal" fill="#000" textLength="42.2" lengthAdjust="spacingAndGlyphs" style="white-space:pre">X 1</text>
<polygon points="1922.8,1242 1953.8,1256.4 1942,1242 1953.8,1227.6" fill="#231815"/>
<line x1="1938.603" y1="1236.15" x2="1986.8" y2="1236.15" stroke="#231815" stroke-width="2.2"/>
<line x1="1938.603" y1="1247.85" x2="1986.8" y2="1247.85" stroke="#231815" stroke-width="2.2"/>
<line x1="1986.8" y1="1234.5" x2="1986.8" y2="1249.5" stroke="#231815" stroke-width="2.2"/>
<path d="M2000,1220 H2159.3 A10,10 0 0 1 2169.3,1230 V1254.2 A10,10 0 0 1 2159.3,1264.2 H1997 A10,10 0 0 1 1987,1254.2 V1230 A10,10 0 0 1 1997,1220 Z" fill="none" stroke="#231815" stroke-width="2.7" stroke-dasharray="8.475 5.584"/>
<text x="2051.1" y="1250.9" font-size="26.744" font-weight="normal" font-style="normal" fill="#0b6db7" textLength="48.508" lengthAdjust="spacingAndGlyphs" style="white-space:pre" stroke="#0b6db7" stroke-width="0.6">LNB</text>
<polyline points="2170.8,1243.6 2220.5,1243.6 2220.5,1182.8" fill="none" stroke="#231815" stroke-width="2.2"/>
<polyline points="2208.3,1189.6 2220.5,1204.1 2233.3,1189.6" fill="none" stroke="#231815" stroke-width="2.2"/>
<text x="2296.3" y="1253.9" font-size="32.558" font-weight="normal" font-style="normal" fill="#000" textLength="42.2" lengthAdjust="spacingAndGlyphs" style="white-space:pre">X 1</text>
<polygon points="1922.8,1330.3 1953.8,1344.7 1942,1330.3 1953.8,1315.9" fill="#231815"/>
<polygon points="2012,1330.3 1981,1315.9 1992.8,1330.3 1981,1344.7" fill="#231815"/>
<line x1="1938.685" y1="1324.65" x2="1993.8" y2="1324.65" stroke="#231815" stroke-width="2.2"/>
<line x1="1938.685" y1="1335.95" x2="1993.8" y2="1335.95" stroke="#231815" stroke-width="2.2"/>
<text x="2172.9" y="1341.8" font-size="32.558" font-weight="normal" font-style="normal" fill="#000" textLength="71.115" lengthAdjust="spacingAndGlyphs" style="white-space:pre">RJ45</text>
<text x="2296.3" y="1341.8" font-size="32.558" font-weight="normal" font-style="normal" fill="#000" textLength="42.2" lengthAdjust="spacingAndGlyphs" style="white-space:pre">X 1</text>
<polygon points="1922.8,1435.3 1953.8,1449.7 1942,1435.3 1953.8,1420.9" fill="#231815"/>
<polygon points="2012,1435.3 1981,1420.9 1992.8,1435.3 1981,1449.7" fill="#231815"/>
<line x1="1938.685" y1="1429.65" x2="1993.8" y2="1429.65" stroke="#231815" stroke-width="2.2"/>
<line x1="1938.685" y1="1440.95" x2="1993.8" y2="1440.95" stroke="#231815" stroke-width="2.2"/>
<text x="2158.2" y="1442.7" font-size="32.849" font-weight="normal" font-style="normal" fill="#000" textLength="100.09" lengthAdjust="spacingAndGlyphs" style="white-space:pre">S/PDIF</text>
<text x="2296.3" y="1442.7" font-size="32.849" font-weight="normal" font-style="normal" fill="#000" textLength="42.2" lengthAdjust="spacingAndGlyphs" style="white-space:pre">X 1</text>
<path d="M2030.7,799.2 L2038.8,799.2 C2043,790 2051,784.2 2062,784.2 L2112.1,784.2 L2110.6,791.3 C2117,791.8 2121.3,797 2121.3,805.5 C2121.3,812 2118,818.5 2112,820.5 L2104.5,820.8 L2102.4,828.4 L2053.6,828.4 C2044,828.4 2037.5,822 2036.3,814.7 L2029.2,813.7 Z" fill="#000"/>
<text x="2051" y="817.7" font-size="33.285" font-weight="bold" font-style="italic" fill="#fff" textLength="66.711" lengthAdjust="spacingAndGlyphs" style="white-space:pre" stroke="#000" stroke-width="0.8" paint-order="stroke">USB</text>
<path d="M2032.1,884.9 H2117.8 Q2121.8,884.9 2121.8,888.9 V916.4 L2106,932.7 H2043.4 L2028.1,916.4 V888.9 Q2028.1,884.9 2032.1,884.9 Z" fill="#000"/>
<path d="M2038.3,895.1 H2112.1 Q2114.1,895.1 2114.1,897.1 V913.9 L2107.5,914.4 L2095.3,925.6 H2055.1 L2043.4,914.4 L2036.3,913.9 V897.1 Q2036.3,895.1 2038.3,895.1 Z" fill="none" stroke="#fff" stroke-width="1.5"/>
<rect x="2051.5" y="906" width="47" height="3" fill="#fff"/>
<rect x="2053" y="904.3" width="2.4" height="6.4" fill="#fff"/>
<rect x="2058.2" y="904.3" width="2.4" height="6.4" fill="#fff"/>
<rect x="2063.4" y="904.3" width="2.4" height="6.4" fill="#fff"/>
<rect x="2068.6" y="904.3" width="2.4" height="6.4" fill="#fff"/>
<rect x="2073.8" y="904.3" width="2.4" height="6.4" fill="#fff"/>
<rect x="2079" y="904.3" width="2.4" height="6.4" fill="#fff"/>
<rect x="2084.2" y="904.3" width="2.4" height="6.4" fill="#fff"/>
<rect x="2089.4" y="904.3" width="2.4" height="6.4" fill="#fff"/>
<rect x="2094.6" y="904.3" width="2.4" height="6.4" fill="#fff"/>
<path d="M2054,1043.8 L2052.5,1058.6" stroke="#111" stroke-width="4.5"/>
<path d="M2044,1000.8 h20 l-1,26 q-1,8 -4,12 h-10 q-3,-4 -4,-12 z" fill="#3a6fcc"/>
<rect x="2049" y="1028.8" width="10" height="1.3" fill="#1d3f8f"/>
<rect x="2049" y="1031.8" width="10" height="1.3" fill="#1d3f8f"/>
<rect x="2049" y="1034.8" width="10" height="1.3" fill="#1d3f8f"/>
<rect x="2049" y="1037.8" width="10" height="1.3" fill="#1d3f8f"/>
<rect x="2049" y="1040.8" width="10" height="1.3" fill="#1d3f8f"/>
<ellipse cx="2054" cy="993.3" rx="7.2" ry="4.5" fill="#c9c4b8" stroke="#8a857a" stroke-width="1"/>
<rect x="2046.8" y="993.3" width="14.4" height="9" fill="#bdb8ac"/>
<ellipse cx="2054" cy="993.1" rx="4" ry="2.6" fill="#1e2a6e"/>
<ellipse cx="2054" cy="993.1" rx="1.6" ry="1" fill="#222"/>
<path d="M2074,1043.5 L2074,1058.6" stroke="#111" stroke-width="4.5"/>
<path d="M2064,1000.5 h20 l-1,26 q-1,8 -4,12 h-10 q-3,-4 -4,-12 z" fill="#3fb58a"/>
<rect x="2069" y="1028.5" width="10" height="1.3" fill="#1c7a55"/>
<rect x="2069" y="1031.5" width="10" height="1.3" fill="#1c7a55"/>
<rect x="2069" y="1034.5" width="10" height="1.3" fill="#1c7a55"/>
<rect x="2069" y="1037.5" width="10" height="1.3" fill="#1c7a55"/>
<rect x="2069" y="1040.5" width="10" height="1.3" fill="#1c7a55"/>
<ellipse cx="2074" cy="993" rx="7.2" ry="4.5" fill="#c9c4b8" stroke="#8a857a" stroke-width="1"/>
<rect x="2066.8" y="993" width="14.4" height="9" fill="#bdb8ac"/>
<ellipse cx="2074" cy="992.8" rx="4" ry="2.6" fill="#0e5a3a"/>
<ellipse cx="2074" cy="992.8" rx="1.6" ry="1" fill="#222"/>
<path d="M2094.2,1045.8 L2095.7,1058.6" stroke="#111" stroke-width="4.5"/>
<path d="M2084.2,1002.8 h20 l-1,26 q-1,8 -4,12 h-10 q-3,-4 -4,-12 z" fill="#e8585a"/>
<rect x="2089.2" y="1030.8" width="10" height="1.3" fill="#b52c2e"/>
<rect x="2089.2" y="1033.8" width="10" height="1.3" fill="#b52c2e"/>
<rect x="2089.2" y="1036.8" width="10" height="1.3" fill="#b52c2e"/>
<rect x="2089.2" y="1039.8" width="10" height="1.3" fill="#b52c2e"/>
<rect x="2089.2" y="1042.8" width="10" height="1.3" fill="#b52c2e"/>
<ellipse cx="2094.2" cy="995.3" rx="7.2" ry="4.5" fill="#c9c4b8" stroke="#8a857a" stroke-width="1"/>
<rect x="2087" y="995.3" width="14.4" height="9" fill="#bdb8ac"/>
<ellipse cx="2094.2" cy="995.1" rx="4" ry="2.6" fill="#8a1b1d"/>
<ellipse cx="2094.2" cy="995.1" rx="1.6" ry="1" fill="#222"/>
<rect x="2051.55" y="1095.5" width="2.4" height="11" fill="#d8d8d8"/>
<rect x="2045" y="1106.2" width="15.5" height="3.2" fill="#9a9a9a"/>
<rect x="2044" y="1109.4" width="8.75" height="25.6" fill="#f2d82a"/>
<rect x="2052.75" y="1109.4" width="8.75" height="25.6" fill="#e8c21e"/>
<rect x="2046.5" y="1135" width="12.5" height="10.7" fill="#f2d82a"/>
<rect x="2047" y="1136.2" width="11.5" height="1.2" fill="#111"/>
<rect x="2047" y="1138.7" width="11.5" height="1.2" fill="#111"/>
<rect x="2047" y="1141.2" width="11.5" height="1.2" fill="#111"/>
<rect x="2047" y="1143.7" width="11.5" height="1.2" fill="#111"/>
<rect x="2049.75" y="1145.7" width="6" height="19.2" fill="#0a0a0a"/>
<rect x="2074.35" y="1095.5" width="2.4" height="11" fill="#d8d8d8"/>
<rect x="2067.8" y="1106.2" width="15.5" height="3.2" fill="#9a9a9a"/>
<rect x="2066.8" y="1109.4" width="8.75" height="25.6" fill="#f4f4f4"/>
<rect x="2075.55" y="1109.4" width="8.75" height="25.6" fill="#e2e2e2"/>
<rect x="2069.3" y="1135" width="12.5" height="10.7" fill="#f4f4f4"/>
<rect x="2069.8" y="1136.2" width="11.5" height="1.2" fill="#111"/>
<rect x="2069.8" y="1138.7" width="11.5" height="1.2" fill="#111"/>
<rect x="2069.8" y="1141.2" width="11.5" height="1.2" fill="#111"/>
<rect x="2069.8" y="1143.7" width="11.5" height="1.2" fill="#111"/>
<rect x="2072.55" y="1145.7" width="6" height="19.2" fill="#0a0a0a"/>
<rect x="2096.85" y="1095.5" width="2.4" height="11" fill="#d8d8d8"/>
<rect x="2090.3" y="1106.2" width="15.5" height="3.2" fill="#9a9a9a"/>
<rect x="2089.3" y="1109.4" width="8.75" height="25.6" fill="#e8404a"/>
<rect x="2098.05" y="1109.4" width="8.75" height="25.6" fill="#d42a2f"/>
<rect x="2091.8" y="1135" width="12.5" height="10.7" fill="#e8404a"/>
<rect x="2092.3" y="1136.2" width="11.5" height="1.2" fill="#111"/>
<rect x="2092.3" y="1138.7" width="11.5" height="1.2" fill="#111"/>
<rect x="2092.3" y="1141.2" width="11.5" height="1.2" fill="#111"/>
<rect x="2092.3" y="1143.7" width="11.5" height="1.2" fill="#111"/>
<rect x="2095.05" y="1145.7" width="6" height="19.2" fill="#0a0a0a"/>
<rect x="2046.6" y="1301.2" width="57" height="57" rx="1.5" fill="#231815"/>
<path d="M2054.5,1311.9 H2095.2 V1343.9 H2082.4 V1347.1 H2067.9 V1343.9 H2054.5 Z" fill="#fff"/>
<rect x="2061.7" y="1311.9" width="2.4" height="12.8" fill="#231815"/>
<rect x="2069.3" y="1311.9" width="2.4" height="12.8" fill="#231815"/>
<rect x="2076.6" y="1311.9" width="2.4" height="12.8" fill="#231815"/>
<rect x="2083.9" y="1311.9" width="2.4" height="12.8" fill="#231815"/>
<path d="M2040.5,1407.8 H2104.5 V1416 Q2111,1418 2110.6,1436 Q2111,1445 2104.5,1447 V1455 L2097,1464.5 H2050 L2042.5,1455 V1447 Q2036,1445 2036.5,1436 Q2036,1418 2042.5,1416 Z" fill="#fff" stroke="#231815" stroke-width="1.2"/>
<path d="M2043.5,1411 H2101.5 V1418.5 Q2108,1420 2108,1436 Q2108,1443 2101.5,1445 V1453.5 L2095.5,1461.5 H2051.5 L2045.5,1453.5 V1445 Q2039,1443 2039,1436 Q2039,1420 2045.5,1418.5 Z" fill="#231815"/>
<path d="M2061.3,1411 H2087.8 V1436 L2082,1441.5 H2067.5 L2061.3,1436 Z" fill="#fff"/>
<circle cx="2074.4" cy="1425.3" r="10.2" fill="#231815"/>
<rect x="2064.5" y="1453.5" width="20.5" height="6.5" fill="#fff"/>
<rect x="444.6" y="921.4" width="15.1" height="5.1" fill="#000" rx="2.5"/>
<rect x="444.6" y="938.4" width="15.1" height="5.1" fill="#000" rx="2.5"/>
<path d="M462.8,913.3 H479 Q480.5,913.3 481,915 Q482.5,920 485,921.8 Q487,922.9 490,922.9 H494.3 Q495.8,922.9 495.8,924.4 V940.2 Q495.8,941.7 494.3,941.7 H490 Q487,941.7 485,943 Q482.5,945 481,949.5 Q480.5,951.2 479,951.2 H462.8 Q461.3,951.2 461.3,949.7 V914.8 Q461.3,913.3 462.8,913.3 Z" fill="#000"/>
<rect x="467" y="920.8" width="3.1" height="22.7" fill="#fff" rx="1.5"/>
<rect x="497.9" y="928" width="13" height="8.7" fill="#000"/>
<g style="mix-blend-mode:multiply">
<use href="#wm" x="162.3" y="213.9"/>
<text x="266.6" y="303.5" font-size="42.442" font-weight="bold" font-style="normal" fill="#e0e0e0" textLength="170.791" lengthAdjust="spacingAndGlyphs" style="white-space:pre" stroke="#e0e0e0" stroke-width="2.6" stroke-linejoin="round">BROADCHIP</text>
<use href="#wm" x="645.8" y="213.9"/>
<text x="750.1" y="303.5" font-size="42.442" font-weight="bold" font-style="normal" fill="#e0e0e0" textLength="170.791" lengthAdjust="spacingAndGlyphs" style="white-space:pre" stroke="#e0e0e0" stroke-width="2.6" stroke-linejoin="round">BROADCHIP</text>
<use href="#wm" x="1129.3" y="213.9"/>
<text x="1233.6" y="303.5" font-size="42.442" font-weight="bold" font-style="normal" fill="#e0e0e0" textLength="170.791" lengthAdjust="spacingAndGlyphs" style="white-space:pre" stroke="#e0e0e0" stroke-width="2.6" stroke-linejoin="round">BROADCHIP</text>
<use href="#wm" x="1612.8" y="213.9"/>
<text x="1717.1" y="303.5" font-size="42.442" font-weight="bold" font-style="normal" fill="#e0e0e0" textLength="170.791" lengthAdjust="spacingAndGlyphs" style="white-space:pre" stroke="#e0e0e0" stroke-width="2.6" stroke-linejoin="round">BROADCHIP</text>
<use href="#wm" x="2096.3" y="213.9"/>
<text x="2200.6" y="303.5" font-size="42.442" font-weight="bold" font-style="normal" fill="#e0e0e0" textLength="170.791" lengthAdjust="spacingAndGlyphs" style="white-space:pre" stroke="#e0e0e0" stroke-width="2.6" stroke-linejoin="round">BROADCHIP</text>
<use href="#wm" x="162.3" y="532.65"/>
<text x="266.6" y="622.25" font-size="42.442" font-weight="bold" font-style="normal" fill="#e0e0e0" textLength="170.791" lengthAdjust="spacingAndGlyphs" style="white-space:pre" stroke="#e0e0e0" stroke-width="2.6" stroke-linejoin="round">BROADCHIP</text>
<use href="#wm" x="645.8" y="532.65"/>
<text x="750.1" y="622.25" font-size="42.442" font-weight="bold" font-style="normal" fill="#e0e0e0" textLength="170.791" lengthAdjust="spacingAndGlyphs" style="white-space:pre" stroke="#e0e0e0" stroke-width="2.6" stroke-linejoin="round">BROADCHIP</text>
<use href="#wm" x="1129.3" y="532.65"/>
<text x="1233.6" y="622.25" font-size="42.442" font-weight="bold" font-style="normal" fill="#e0e0e0" textLength="170.791" lengthAdjust="spacingAndGlyphs" style="white-space:pre" stroke="#e0e0e0" stroke-width="2.6" stroke-linejoin="round">BROADCHIP</text>
<use href="#wm" x="1612.8" y="532.65"/>
<text x="1717.1" y="622.25" font-size="42.442" font-weight="bold" font-style="normal" fill="#e0e0e0" textLength="170.791" lengthAdjust="spacingAndGlyphs" style="white-space:pre" stroke="#e0e0e0" stroke-width="2.6" stroke-linejoin="round">BROADCHIP</text>
<use href="#wm" x="2096.3" y="532.65"/>
<text x="2200.6" y="622.25" font-size="42.442" font-weight="bold" font-style="normal" fill="#e0e0e0" textLength="170.791" lengthAdjust="spacingAndGlyphs" style="white-space:pre" stroke="#e0e0e0" stroke-width="2.6" stroke-linejoin="round">BROADCHIP</text>
<use href="#wm" x="162.3" y="851.4"/>
<text x="266.6" y="941" font-size="42.442" font-weight="bold" font-style="normal" fill="#e0e0e0" textLength="170.791" lengthAdjust="spacingAndGlyphs" style="white-space:pre" stroke="#e0e0e0" stroke-width="2.6" stroke-linejoin="round">BROADCHIP</text>
<use href="#wm" x="645.8" y="851.4"/>
<text x="750.1" y="941" font-size="42.442" font-weight="bold" font-style="normal" fill="#e0e0e0" textLength="170.791" lengthAdjust="spacingAndGlyphs" style="white-space:pre" stroke="#e0e0e0" stroke-width="2.6" stroke-linejoin="round">BROADCHIP</text>
<use href="#wm" x="1129.3" y="851.4"/>
<text x="1233.6" y="941" font-size="42.442" font-weight="bold" font-style="normal" fill="#e0e0e0" textLength="170.791" lengthAdjust="spacingAndGlyphs" style="white-space:pre" stroke="#e0e0e0" stroke-width="2.6" stroke-linejoin="round">BROADCHIP</text>
<use href="#wm" x="1612.8" y="851.4"/>
<text x="1717.1" y="941" font-size="42.442" font-weight="bold" font-style="normal" fill="#e0e0e0" textLength="170.791" lengthAdjust="spacingAndGlyphs" style="white-space:pre" stroke="#e0e0e0" stroke-width="2.6" stroke-linejoin="round">BROADCHIP</text>
<use href="#wm" x="2096.3" y="851.4"/>
<text x="2200.6" y="941" font-size="42.442" font-weight="bold" font-style="normal" fill="#e0e0e0" textLength="170.791" lengthAdjust="spacingAndGlyphs" style="white-space:pre" stroke="#e0e0e0" stroke-width="2.6" stroke-linejoin="round">BROADCHIP</text>
<use href="#wm" x="162.3" y="1170.15"/>
<text x="266.6" y="1259.75" font-size="42.442" font-weight="bold" font-style="normal" fill="#e0e0e0" textLength="170.791" lengthAdjust="spacingAndGlyphs" style="white-space:pre" stroke="#e0e0e0" stroke-width="2.6" stroke-linejoin="round">BROADCHIP</text>
<use href="#wm" x="645.8" y="1170.15"/>
<text x="750.1" y="1259.75" font-size="42.442" font-weight="bold" font-style="normal" fill="#e0e0e0" textLength="170.791" lengthAdjust="spacingAndGlyphs" style="white-space:pre" stroke="#e0e0e0" stroke-width="2.6" stroke-linejoin="round">BROADCHIP</text>
<use href="#wm" x="1129.3" y="1170.15"/>
<text x="1233.6" y="1259.75" font-size="42.442" font-weight="bold" font-style="normal" fill="#e0e0e0" textLength="170.791" lengthAdjust="spacingAndGlyphs" style="white-space:pre" stroke="#e0e0e0" stroke-width="2.6" stroke-linejoin="round">BROADCHIP</text>
<use href="#wm" x="1612.8" y="1170.15"/>
<text x="1717.1" y="1259.75" font-size="42.442" font-weight="bold" font-style="normal" fill="#e0e0e0" textLength="170.791" lengthAdjust="spacingAndGlyphs" style="white-space:pre" stroke="#e0e0e0" stroke-width="2.6" stroke-linejoin="round">BROADCHIP</text>
<use href="#wm" x="2096.3" y="1170.15"/>
<text x="2200.6" y="1259.75" font-size="42.442" font-weight="bold" font-style="normal" fill="#e0e0e0" textLength="170.791" lengthAdjust="spacingAndGlyphs" style="white-space:pre" stroke="#e0e0e0" stroke-width="2.6" stroke-linejoin="round">BROADCHIP</text>
<use href="#wm" x="162.3" y="1488.9"/>
<text x="266.6" y="1578.5" font-size="42.442" font-weight="bold" font-style="normal" fill="#e0e0e0" textLength="170.791" lengthAdjust="spacingAndGlyphs" style="white-space:pre" stroke="#e0e0e0" stroke-width="2.6" stroke-linejoin="round">BROADCHIP</text>
<use href="#wm" x="645.8" y="1488.9"/>
<text x="750.1" y="1578.5" font-size="42.442" font-weight="bold" font-style="normal" fill="#e0e0e0" textLength="170.791" lengthAdjust="spacingAndGlyphs" style="white-space:pre" stroke="#e0e0e0" stroke-width="2.6" stroke-linejoin="round">BROADCHIP</text>
<use href="#wm" x="1129.3" y="1488.9"/>
<text x="1233.6" y="1578.5" font-size="42.442" font-weight="bold" font-style="normal" fill="#e0e0e0" textLength="170.791" lengthAdjust="spacingAndGlyphs" style="white-space:pre" stroke="#e0e0e0" stroke-width="2.6" stroke-linejoin="round">BROADCHIP</text>
<use href="#wm" x="1612.8" y="1488.9"/>
<text x="1717.1" y="1578.5" font-size="42.442" font-weight="bold" font-style="normal" fill="#e0e0e0" textLength="170.791" lengthAdjust="spacingAndGlyphs" style="white-space:pre" stroke="#e0e0e0" stroke-width="2.6" stroke-linejoin="round">BROADCHIP</text>
<use href="#wm" x="2096.3" y="1488.9"/>
<text x="2200.6" y="1578.5" font-size="42.442" font-weight="bold" font-style="normal" fill="#e0e0e0" textLength="170.791" lengthAdjust="spacingAndGlyphs" style="white-space:pre" stroke="#e0e0e0" stroke-width="2.6" stroke-linejoin="round">BROADCHIP</text>
</g>
<defs><linearGradient id="scr" x1="0" y1="0" x2="0" y2="1"><stop offset="0" stop-color="#0a1530"/><stop offset="0.25" stop-color="#0f2347"/><stop offset="0.33" stop-color="#2b4c78"/><stop offset="0.52" stop-color="#2f5c8e"/><stop offset="0.56" stop-color="#3a8fd8"/><stop offset="0.8" stop-color="#2f86d6"/><stop offset="1" stop-color="#1b5fb0"/></linearGradient><radialGradient id="glow" cx="0.5" cy="0.5" r="0.5"><stop offset="0" stop-color="#ffffff" stop-opacity="1"/><stop offset="0.45" stop-color="#d8eefc" stop-opacity="0.8"/><stop offset="1" stop-color="#8fd0f8" stop-opacity="0"/></radialGradient><linearGradient id="bez" x1="0" y1="0" x2="1" y2="0"><stop offset="0" stop-color="#7a7c80"/><stop offset="0.03" stop-color="#2a2b2e"/><stop offset="1" stop-color="#1c1d20"/></linearGradient><clipPath id="scrclip"><polygon points="141,383.4 387.6,407.4 387.6,547.8 141,562"/></clipPath></defs>
<polygon points="267.9,554 280.8,554 280.8,569.5 267.9,569.5" fill="#9a9ca0"/>
<rect x="273" y="554" width="3" height="15" fill="#d8d8da"/>
<polygon points="225.8,569.2 330.6,566.6 330,576.3 228.4,579.5" fill="#3a3b3f"/>
<polygon points="236,570.5 320,568.6 318,573.6 238,575.6" fill="#6d6f74"/>
<polygon points="240,571.3 316,569.6 314.5,572.6 241.5,574.3" fill="#3a3b3f"/>
<polygon points="135.8,379.5 390.2,405.4 390.2,548.5 135.8,566.6" fill="url(#bez)"/>
<g clip-path="url(#scrclip)">
<rect x="141" y="383.4" width="246.6" height="178.6" fill="url(#scr)"/>
<ellipse cx="268" cy="590" rx="170" ry="105" fill="#4aa6e6"/>
<ellipse cx="268" cy="600" rx="150" ry="100" fill="#2f8ad8"/>
<ellipse cx="268" cy="497" rx="80" ry="26" fill="url(#glow)"/>
<path d="M141,540 Q268,470 388,520 L388,548 L141,562 Z" fill="#56b2ea" opacity="0.45"/>
<path d="M150,543 L380,530 L380,536 L150,549 Z" fill="#7ed0f4" opacity="0.7"/>
<ellipse cx="200" cy="512" rx="30" ry="7" fill="#ffffff" opacity="0.45" transform="rotate(-12 200 512)"/>
<ellipse cx="240" cy="530" rx="26" ry="6" fill="#ffffff" opacity="0.5" transform="rotate(-12 240 530)"/>
<ellipse cx="300" cy="515" rx="34" ry="8" fill="#ffffff" opacity="0.45" transform="rotate(-12 300 515)"/>
<ellipse cx="345" cy="505" rx="22" ry="6" fill="#ffffff" opacity="0.4" transform="rotate(-12 345 505)"/>
<ellipse cx="175" cy="535" rx="22" ry="5" fill="#ffffff" opacity="0.4" transform="rotate(-12 175 535)"/>
<ellipse cx="320" cy="535" rx="30" ry="5" fill="#ffffff" opacity="0.4" transform="rotate(-12 320 535)"/>
<ellipse cx="265" cy="512" rx="40" ry="9" fill="#ffffff" opacity="0.35" transform="rotate(-12 265 512)"/>
<ellipse cx="225" cy="500" rx="25" ry="5" fill="#ffffff" opacity="0.4" transform="rotate(-12 225 500)"/>
<path d="M141,549 L388,537 L388,548 L141,562 Z" fill="#1a4f9a"/>
<rect x="200.587" y="410.672" width="0.8" height="0.8" fill="#cfe0ff" opacity="0.7"/>
<rect x="232.529" y="414.838" width="0.8" height="0.8" fill="#cfe0ff" opacity="0.7"/>
<rect x="294.424" y="388.522" width="0.8" height="0.8" fill="#cfe0ff" opacity="0.7"/>
<rect x="146.187" y="421.315" width="0.8" height="0.8" fill="#cfe0ff" opacity="0.7"/>
<rect x="205.764" y="396.139" width="0.8" height="0.8" fill="#cfe0ff" opacity="0.7"/>
<rect x="383.946" y="413.219" width="0.8" height="0.8" fill="#cfe0ff" opacity="0.7"/>
<rect x="345.424" y="412.3" width="0.8" height="0.8" fill="#cfe0ff" opacity="0.7"/>
<rect x="297.654" y="393.128" width="0.8" height="0.8" fill="#cfe0ff" opacity="0.7"/>
<rect x="296.636" y="431.783" width="0.8" height="0.8" fill="#cfe0ff" opacity="0.7"/>
<rect x="269.61" y="423.547" width="0.8" height="0.8" fill="#cfe0ff" opacity="0.7"/>
<rect x="305.482" y="388.491" width="0.8" height="0.8" fill="#cfe0ff" opacity="0.7"/>
<rect x="326.492" y="418.092" width="0.8" height="0.8" fill="#cfe0ff" opacity="0.7"/>
<rect x="215.907" y="386.496" width="0.8" height="0.8" fill="#cfe0ff" opacity="0.7"/>
<rect x="352.458" y="412.326" width="0.8" height="0.8" fill="#cfe0ff" opacity="0.7"/>
<rect x="316.955" y="433.613" width="0.8" height="0.8" fill="#cfe0ff" opacity="0.7"/>
<rect x="315.819" y="435.879" width="0.8" height="0.8" fill="#cfe0ff" opacity="0.7"/>
<rect x="238.581" y="424.91" width="0.8" height="0.8" fill="#cfe0ff" opacity="0.7"/>
<rect x="250.598" y="432.408" width="0.8" height="0.8" fill="#cfe0ff" opacity="0.7"/>
<rect x="355.686" y="390.655" width="0.8" height="0.8" fill="#cfe0ff" opacity="0.7"/>
<rect x="175.904" y="394.861" width="0.8" height="0.8" fill="#cfe0ff" opacity="0.7"/>
<rect x="376.646" y="410.95" width="0.8" height="0.8" fill="#cfe0ff" opacity="0.7"/>
<rect x="294.649" y="401.182" width="0.8" height="0.8" fill="#cfe0ff" opacity="0.7"/>
<rect x="265.753" y="404.962" width="0.8" height="0.8" fill="#cfe0ff" opacity="0.7"/>
<rect x="227.92" y="413.718" width="0.8" height="0.8" fill="#cfe0ff" opacity="0.7"/>
<rect x="284.389" y="432.956" width="0.8" height="0.8" fill="#cfe0ff" opacity="0.7"/>
<rect x="308.04" y="435.807" width="0.8" height="0.8" fill="#cfe0ff" opacity="0.7"/>
<rect x="350.249" y="442.128" width="0.8" height="0.8" fill="#cfe0ff" opacity="0.7"/>
<rect x="305.448" y="393.891" width="0.8" height="0.8" fill="#cfe0ff" opacity="0.7"/>
<rect x="351.274" y="440.678" width="0.8" height="0.8" fill="#cfe0ff" opacity="0.7"/>
<rect x="361.936" y="418.273" width="0.8" height="0.8" fill="#cfe0ff" opacity="0.7"/>
<rect x="315.744" y="396.661" width="0.8" height="0.8" fill="#cfe0ff" opacity="0.7"/>
<rect x="344.249" y="417.822" width="0.8" height="0.8" fill="#cfe0ff" opacity="0.7"/>
<rect x="211.96" y="388.044" width="0.8" height="0.8" fill="#cfe0ff" opacity="0.7"/>
<rect x="349.654" y="442.019" width="0.8" height="0.8" fill="#cfe0ff" opacity="0.7"/>
<rect x="164.421" y="420.738" width="0.8" height="0.8" fill="#cfe0ff" opacity="0.7"/>
<rect x="242.332" y="392.552" width="0.8" height="0.8" fill="#cfe0ff" opacity="0.7"/>
<rect x="214.122" y="421.993" width="0.8" height="0.8" fill="#cfe0ff" opacity="0.7"/>
<rect x="354.21" y="387.56" width="0.8" height="0.8" fill="#cfe0ff" opacity="0.7"/>
<rect x="291.717" y="387.407" width="0.8" height="0.8" fill="#cfe0ff" opacity="0.7"/>
<rect x="316.863" y="403.305" width="0.8" height="0.8" fill="#cfe0ff" opacity="0.7"/>
<polygon points="216.7,392.5 337.1,401.2 337.1,410.5 216.7,403" fill="#4a6890"/>
<polygon points="241.3,394.3 264,396 264,405.4 241.3,403.8" fill="#c8242c"/>
<text x="156.5" y="414.5" font-size="21" fill="#f2f6fb" font-family="Liberation Sans" textLength="44" lengthAdjust="spacingAndGlyphs" transform="rotate(3.5 156.5 414.5)">11:45</text>
<circle cx="231.6" cy="419.7" r="5.2" fill="#f7c531"/><circle cx="231.6" cy="419.7" r="3.4" fill="#ffe27a"/>
<rect x="241" y="415" width="16" height="6" fill="#dfe8f2" opacity="0.85"/>
<rect x="241" y="423" width="14" height="2" fill="#bcd0e4" opacity="0.7"/>
<rect x="241" y="426.5" width="16" height="2" fill="#bcd0e4" opacity="0.7"/>
<polygon points="275,418.4 330,421.5 330,433.9 275,430.8" fill="#a9c6e2"/>
<polygon points="283,421 323,423.3 323,430 283,427.8" fill="#4a7fbf"/>
<polygon points="323.5,423.2 328,423.5 328,430.4 323.5,430.1" fill="#d8262c"/>
<rect x="348" y="414" width="2.5" height="1.4" fill="#c9d4e2" opacity="0.8"/>
<rect x="353.5" y="414" width="2.5" height="1.4" fill="#c9d4e2" opacity="0.8"/>
<rect x="359" y="414" width="2.5" height="1.4" fill="#c9d4e2" opacity="0.8"/>
<rect x="364.5" y="414" width="2.5" height="1.4" fill="#c9d4e2" opacity="0.8"/>
<rect x="370" y="414" width="2.5" height="1.4" fill="#e8b030" opacity="0.8"/>
<rect x="375.5" y="414" width="2.5" height="1.4" fill="#e03030" opacity="0.8"/>
<rect x="348" y="419" width="2.5" height="1.4" fill="#c9d4e2" opacity="0.8"/>
<rect x="353.5" y="419" width="2.5" height="1.4" fill="#c9d4e2" opacity="0.8"/>
<rect x="359" y="419" width="2.5" height="1.4" fill="#c9d4e2" opacity="0.8"/>
<rect x="364.5" y="419" width="2.5" height="1.4" fill="#c9d4e2" opacity="0.8"/>
<rect x="370" y="419" width="2.5" height="1.4" fill="#e8b030" opacity="0.8"/>
<rect x="375.5" y="419" width="2.5" height="1.4" fill="#e03030" opacity="0.8"/>
<rect x="348" y="424" width="2.5" height="1.4" fill="#c9d4e2" opacity="0.8"/>
<rect x="353.5" y="424" width="2.5" height="1.4" fill="#c9d4e2" opacity="0.8"/>
<rect x="359" y="424" width="2.5" height="1.4" fill="#c9d4e2" opacity="0.8"/>
<rect x="364.5" y="424" width="2.5" height="1.4" fill="#c9d4e2" opacity="0.8"/>
<rect x="370" y="424" width="2.5" height="1.4" fill="#e8b030" opacity="0.8"/>
<rect x="375.5" y="424" width="2.5" height="1.4" fill="#e03030" opacity="0.8"/>
<rect x="348" y="429" width="2.5" height="1.4" fill="#c9d4e2" opacity="0.8"/>
<rect x="353.5" y="429" width="2.5" height="1.4" fill="#c9d4e2" opacity="0.8"/>
<rect x="359" y="429" width="2.5" height="1.4" fill="#c9d4e2" opacity="0.8"/>
<rect x="364.5" y="429" width="2.5" height="1.4" fill="#c9d4e2" opacity="0.8"/>
<rect x="370" y="429" width="2.5" height="1.4" fill="#e8b030" opacity="0.8"/>
<rect x="375.5" y="429" width="2.5" height="1.4" fill="#e03030" opacity="0.8"/>
<rect x="348" y="434" width="2.5" height="1.4" fill="#c9d4e2" opacity="0.8"/>
<rect x="353.5" y="434" width="2.5" height="1.4" fill="#c9d4e2" opacity="0.8"/>
<rect x="359" y="434" width="2.5" height="1.4" fill="#c9d4e2" opacity="0.8"/>
<rect x="364.5" y="434" width="2.5" height="1.4" fill="#c9d4e2" opacity="0.8"/>
<rect x="370" y="434" width="2.5" height="1.4" fill="#e8b030" opacity="0.8"/>
<rect x="375.5" y="434" width="2.5" height="1.4" fill="#e03030" opacity="0.8"/>
<rect x="150.7" y="438.4" width="40.8" height="29.8" fill="#d8e2ea"/>
<rect x="151.7" y="439.4" width="38.8" height="7.15" fill="#6fa8dc"/>
<rect x="151.7" y="446.35" width="38.8" height="7.15" fill="#d2643a"/>
<rect x="151.7" y="453.3" width="38.8" height="7.15" fill="#e89a50"/>
<rect x="151.7" y="460.25" width="38.8" height="7.15" fill="#3a78c0"/>
<rect x="199.3" y="440.4" width="37.5" height="29.1" fill="#d8e2ea"/>
<rect x="200.3" y="441.4" width="35.5" height="6.975" fill="#3f86d6"/>
<rect x="200.3" y="448.175" width="35.5" height="6.975" fill="#f2c21c"/>
<rect x="200.3" y="454.95" width="35.5" height="6.975" fill="#e8a818"/>
<rect x="200.3" y="461.725" width="35.5" height="6.975" fill="#7a3a10"/>
<rect x="243.9" y="442.3" width="33.7" height="27.8" fill="#d8e2ea"/>
<rect x="244.9" y="443.3" width="31.7" height="6.65" fill="#d44a9a"/>
<rect x="244.9" y="449.75" width="31.7" height="6.65" fill="#e86ab0"/>
<rect x="244.9" y="456.2" width="31.7" height="6.65" fill="#3a9a3a"/>
<rect x="244.9" y="462.65" width="31.7" height="6.65" fill="#2a7a2a"/>
<rect x="284" y="444.3" width="31.1" height="26.5" fill="#d8e2ea"/>
<rect x="285" y="445.3" width="29.1" height="6.325" fill="#e9a8c8"/>
<rect x="285" y="451.425" width="29.1" height="6.325" fill="#f0d0b0"/>
<rect x="285" y="457.55" width="29.1" height="6.325" fill="#3a62b0"/>
<rect x="285" y="463.675" width="29.1" height="6.325" fill="#1e3f80"/>
<rect x="321.6" y="446.2" width="28.5" height="25.9" fill="#d8e2ea"/>
<rect x="322.6" y="447.2" width="26.5" height="6.175" fill="#4a90d0"/>
<rect x="322.6" y="453.175" width="26.5" height="6.175" fill="#4a8a3a"/>
<rect x="322.6" y="459.15" width="26.5" height="6.175" fill="#b08a3a"/>
<rect x="322.6" y="465.125" width="26.5" height="6.175" fill="#1f4f9a"/>
<rect x="355.9" y="448.1" width="26.5" height="24.6" fill="#d8e2ea"/>
<rect x="356.9" y="449.1" width="24.5" height="5.85" fill="#7ccc4a"/>
<rect x="356.9" y="454.75" width="24.5" height="5.85" fill="#5ab03a"/>
<rect x="356.9" y="460.4" width="24.5" height="5.85" fill="#9ad86a"/>
<rect x="356.9" y="466.05" width="24.5" height="5.85" fill="#4a9a2a"/>
<circle cx="218" cy="458" r="5" fill="#7a3a10"/>
<rect x="179.2" y="484" width="16.8" height="18.48" rx="2" fill="#2f9ae6"/>
<rect x="180.2" y="503.5" width="14.8" height="3.5" fill="#2a4a6a" rx="1.7" opacity="0.8"/>
<rect x="179.2" y="518" width="16.8" height="20.16" rx="2" fill="#f5c518"/>
<rect x="182.2" y="490" width="10.8" height="7.56" fill="#ffffff" opacity="0.75"/>
<rect x="219.3" y="483.7" width="15.6" height="17.16" rx="2" fill="#f07a1a"/>
<rect x="220.3" y="503.1" width="13.6" height="3.5" fill="#2a4a6a" rx="1.7" opacity="0.8"/>
<rect x="219.3" y="516.8" width="15.6" height="18.72" rx="2" fill="#4cb030"/>
<rect x="222.3" y="489.7" width="9.6" height="7.02" fill="#ffffff" opacity="0.75"/>
<rect x="256.2" y="483.4" width="14.9" height="16.39" rx="2" fill="#1fae7a"/>
<rect x="257.2" y="502.7" width="12.9" height="3.5" fill="#2a4a6a" rx="1.7" opacity="0.8"/>
<rect x="256.2" y="515.6" width="14.9" height="17.88" rx="2" fill="#e0302a"/>
<rect x="259.2" y="489.4" width="8.9" height="6.705" fill="#ffffff" opacity="0.75"/>
<rect x="291.2" y="483.1" width="12.9" height="14.19" rx="2" fill="#e0302a"/>
<rect x="292.2" y="502.3" width="10.9" height="3.5" fill="#2a4a6a" rx="1.7" opacity="0.8"/>
<rect x="291.2" y="514.4" width="12.9" height="15.48" rx="2" fill="#2a5cc0"/>
<rect x="294.2" y="489.1" width="6.9" height="5.805" fill="#ffffff" opacity="0.75"/>
<rect x="322.9" y="482.8" width="12.3" height="13.53" rx="2" fill="#2aaa4a"/>
<rect x="323.9" y="501.9" width="10.3" height="3.5" fill="#2a4a6a" rx="1.7" opacity="0.8"/>
<rect x="322.9" y="513.2" width="12.3" height="14.76" rx="2" fill="#f58a1a"/>
<rect x="325.9" y="488.8" width="6.3" height="5.535" fill="#ffffff" opacity="0.75"/>
<rect x="352.7" y="482.5" width="11" height="12.1" rx="2" fill="#2a86e0"/>
<rect x="353.7" y="501.5" width="9" height="3.5" fill="#2a4a6a" rx="1.7" opacity="0.8"/>
<rect x="352.7" y="512" width="11" height="13.2" rx="2" fill="#c8b428"/>
<rect x="355.7" y="488.5" width="5" height="4.95" fill="#ffffff" opacity="0.75"/>
</g>
<path d="M115,665.5 H412.5 Q414.6,665.5 414.6,667.5 V905 Q414.6,907 412.5,907 H115.5 Q113.3,907 113.3,905 V667.5 Q113.3,665.5 115,665.5 Z" fill="#14a068"/>
<rect x="113.3" y="901" width="301.3" height="6" fill="#d3dad6"/>
<rect x="113.3" y="679" width="9" height="64" fill="#b9cfc4"/>
<rect x="128" y="700" width="9" height="50" fill="#d3dad6"/>
<rect x="113.3" y="829" width="14" height="72" fill="#d3dad6"/>
<path d="M124,800 H184 V840 H174 V804 H128 V846 H124 Z" fill="#d3dad6"/>
<rect x="226" y="778" width="12.5" height="60" fill="#d3dad6"/>
<path d="M188,800 H226 V836 L216,846 H196 L188,838 Z" fill="#7fcfae" opacity="0.55"/>
<rect x="407.9" y="679.3" width="6.5" height="76" fill="#d3dad6"/>
<rect x="400.6" y="773" width="13.8" height="28" fill="#d3dad6"/>
<rect x="134" y="668" width="4" height="30" fill="#d3dad6" opacity="0.7"/>
<rect x="205" y="668" width="12" height="8" fill="#d3dad6"/>
<rect x="317.3" y="667" width="83" height="61" fill="#139a63"/>
<rect x="340" y="667" width="40" height="4" fill="#0f8a58"/>
<circle cx="331" cy="715" r="0.9" fill="#c8743a"/><circle cx="332.8" cy="719.5" r="0.9" fill="#c8743a"/>
<circle cx="334.6" cy="715" r="0.9" fill="#c8743a"/><circle cx="336.4" cy="719.5" r="0.9" fill="#c8743a"/>
<circle cx="338.2" cy="715" r="0.9" fill="#c8743a"/><circle cx="340" cy="719.5" r="0.9" fill="#c8743a"/>
<circle cx="341.8" cy="715" r="0.9" fill="#c8743a"/><circle cx="343.6" cy="719.5" r="0.9" fill="#c8743a"/>
<circle cx="345.4" cy="715" r="0.9" fill="#c8743a"/><circle cx="347.2" cy="719.5" r="0.9" fill="#c8743a"/>
<circle cx="349" cy="715" r="0.9" fill="#c8743a"/><circle cx="350.8" cy="719.5" r="0.9" fill="#c8743a"/>
<circle cx="352.6" cy="715" r="0.9" fill="#c8743a"/><circle cx="354.4" cy="719.5" r="0.9" fill="#c8743a"/>
<circle cx="356.2" cy="715" r="0.9" fill="#c8743a"/><circle cx="358" cy="719.5" r="0.9" fill="#c8743a"/>
<circle cx="359.8" cy="715" r="0.9" fill="#c8743a"/><circle cx="361.6" cy="719.5" r="0.9" fill="#c8743a"/>
<circle cx="363.4" cy="715" r="0.9" fill="#c8743a"/><circle cx="365.2" cy="719.5" r="0.9" fill="#c8743a"/>
<circle cx="367" cy="715" r="0.9" fill="#c8743a"/><circle cx="368.8" cy="719.5" r="0.9" fill="#c8743a"/>
<circle cx="370.6" cy="715" r="0.9" fill="#c8743a"/><circle cx="372.4" cy="719.5" r="0.9" fill="#c8743a"/>
<circle cx="374.2" cy="715" r="0.9" fill="#c8743a"/><circle cx="376" cy="719.5" r="0.9" fill="#c8743a"/>
<circle cx="377.8" cy="715" r="0.9" fill="#c8743a"/><circle cx="379.6" cy="719.5" r="0.9" fill="#c8743a"/>
<circle cx="381.4" cy="715" r="0.9" fill="#c8743a"/><circle cx="383.2" cy="719.5" r="0.9" fill="#c8743a"/>
<circle cx="385" cy="715" r="0.9" fill="#c8743a"/><circle cx="386.8" cy="719.5" r="0.9" fill="#c8743a"/>
<circle cx="322" cy="700" r="1.6" fill="#fff"/><circle cx="394.1" cy="700" r="1.6" fill="#fff"/>
<circle cx="119.7" cy="672" r="4.6" fill="#d9925a"/><circle cx="119.7" cy="672" r="2.3" fill="#fff"/>
<circle cx="407.9" cy="671.1" r="4.6" fill="#d9925a"/><circle cx="407.9" cy="671.1" r="2.3" fill="#fff"/>
<circle cx="119.6" cy="900.3" r="4.6" fill="#d9925a"/><circle cx="119.6" cy="900.3" r="2.3" fill="#fff"/>
<circle cx="408.3" cy="900.3" r="4.6" fill="#d9925a"/><circle cx="408.3" cy="900.3" r="2.3" fill="#fff"/>
<rect x="165" y="657.3" width="30.6" height="22.5" fill="#2a2b2d"/>
<rect x="167.5" y="663" width="25.5" height="8" fill="#c9c9c9"/>
<rect x="173" y="659" width="4" height="4" fill="#111"/>
<rect x="219.8" y="661.2" width="18.5" height="19" fill="#d4d4d4"/>
<rect x="222" y="664" width="5" height="8" fill="#8d8d8d"/>
<rect x="231" y="664" width="5" height="8" fill="#8d8d8d"/>
<rect x="252.2" y="661.2" width="20.2" height="16.4" fill="#c8c8c8" rx="1.5"/>
<rect x="255" y="667" width="14.6" height="6" fill="#9a9a9a"/>
<rect x="287.1" y="661.2" width="20.7" height="16.4" fill="#c8c8c8" rx="1.5"/>
<rect x="290" y="667" width="14.6" height="6" fill="#9a9a9a"/>
<rect x="171.9" y="684" width="26.7" height="4.8" fill="#e8e6e0" rx="2"/>
<ellipse cx="151" cy="694.5" rx="10" ry="11.5" fill="#1b1c1e"/>
<circle cx="174.5" cy="707.5" r="5.8" fill="#1b1c1e"/>
<rect x="154.6" y="712.6" width="14.2" height="23.3" fill="#4a4d52"/>
<rect x="140" y="720" width="12.9" height="7.7" fill="#6b6b6b" rx="2"/>
<circle cx="206" cy="700" r="3" fill="#e8642a"/><circle cx="137" cy="714" r="3" fill="#e8642a"/>
<path d="M118,704 L135,707" stroke="#2a78d0" stroke-width="3"/><path d="M214,703 L226,694" stroke="#2a78d0" stroke-width="3"/>
<rect x="177" y="708.7" width="39.8" height="33.7" fill="#26272a"/>
<rect x="179.6" y="714.7" width="15.5" height="19.5" fill="#c26a2e"/>
<rect x="197.8" y="714.7" width="15.5" height="19.5" fill="#c26a2e"/>
<rect x="179.6" y="716" width="15.5" height="1.2" fill="#e8d8c0"/>
<rect x="197.8" y="716" width="15.5" height="1.2" fill="#e8d8c0"/>
<rect x="179.6" y="720.6" width="15.5" height="1.2" fill="#e8d8c0"/>
<rect x="197.8" y="720.6" width="15.5" height="1.2" fill="#e8d8c0"/>
<rect x="179.6" y="725.2" width="15.5" height="1.2" fill="#e8d8c0"/>
<rect x="197.8" y="725.2" width="15.5" height="1.2" fill="#e8d8c0"/>
<rect x="179.6" y="729.8" width="15.5" height="1.2" fill="#e8d8c0"/>
<rect x="197.8" y="729.8" width="15.5" height="1.2" fill="#e8d8c0"/>
<rect x="195.2" y="745" width="25.8" height="5" fill="#2a2b2d"/>
<rect x="116.6" y="746.7" width="64.8" height="23.3" fill="#5a302c" rx="4"/>
<rect x="116.6" y="746.7" width="21.6" height="23.3" fill="#b4b4b4" rx="4"/>
<rect x="140" y="752" width="40" height="2" fill="#8a605a"/>
<rect x="181" y="748" width="8" height="22" fill="#8a9a3a" opacity="0.7"/>
<rect x="191.3" y="755.3" width="33.7" height="35" fill="#232427"/>
<rect x="191.3" y="766" width="33.7" height="1.5" fill="#111"/>
<rect x="191.3" y="778" width="33.7" height="1.5" fill="#111"/>
<circle cx="201" cy="760" r="1.2" fill="#ddd"/><circle cx="208" cy="772" r="1.2" fill="#ddd"/>
<circle cx="132" cy="780" r="4" fill="#777"/>
<rect x="144" y="778" width="18" height="6" fill="#3a72d0"/>
<rect x="124" y="788" width="30" height="1.6" fill="#333"/>
<rect x="133" y="793" width="12" height="4" fill="#222" rx="2"/>
<rect x="127.7" y="804.5" width="46.9" height="55.7" fill="#1f2022"/>
<rect x="127.7" y="819.4" width="46.9" height="19" fill="#e2e56a"/>
<path d="M132,812 Q150,800 170,812 M132,852 Q150,864 170,852" stroke="#b8822e" stroke-width="1.2" fill="none"/>
<circle cx="186.8" cy="854.7" r="6.6" fill="#5a4e8a"/><circle cx="186.8" cy="854.7" r="4" fill="#bcbcc8"/>
<circle cx="178" cy="867.4" r="6.6" fill="#5a4e8a"/><circle cx="178" cy="867.4" r="4" fill="#bcbcc8"/>
<circle cx="141" cy="865" r="2.6" fill="#e8642a"/><circle cx="146" cy="894" r="2.6" fill="#e8642a"/>
<path d="M197,838 L199,846" stroke="#2a78d0" stroke-width="3"/>
<rect x="119" y="867" width="6" height="20" fill="#2c2d30"/>
<rect x="238.3" y="721.2" width="16.5" height="94" fill="#2b2c30"/>
<circle cx="246.7" cy="726.5" r="5.6" fill="#c8c8c0"/><circle cx="246.7" cy="726.5" r="4" fill="#cfd84a"/><circle cx="246.7" cy="726.5" r="1.8" fill="#111"/>
<circle cx="246.7" cy="746.9" r="5.6" fill="#c8c8c0"/><circle cx="246.7" cy="746.9" r="4" fill="#2a3cc8"/><circle cx="246.7" cy="746.9" r="1.8" fill="#111"/>
<circle cx="246.7" cy="767.3" r="5.6" fill="#c8c8c0"/><circle cx="246.7" cy="767.3" r="4" fill="#d82a2c"/><circle cx="246.7" cy="767.3" r="1.8" fill="#111"/>
<circle cx="246.7" cy="787.7" r="5.6" fill="#c8c8c0"/><circle cx="246.7" cy="787.7" r="4" fill="#f2f2f2"/><circle cx="246.7" cy="787.7" r="1.8" fill="#111"/>
<circle cx="246.7" cy="808.1" r="5.6" fill="#c8c8c0"/><circle cx="246.7" cy="808.1" r="4" fill="#d82a2c"/><circle cx="246.7" cy="808.1" r="1.8" fill="#111"/>
<rect x="260.2" y="769" width="38.7" height="41.6" fill="#a8a8a6"/>
<circle cx="270" cy="779" r="6" fill="#8b7d62"/><circle cx="270" cy="779" r="2.5" fill="#555"/>
<circle cx="270" cy="800" r="6" fill="#333"/><circle cx="270" cy="800" r="3" fill="#888"/>
<rect x="280" y="772" width="16" height="20" fill="#8a8a8a" opacity="0.6"/>
<rect x="281" y="801" width="14" height="8" fill="#cfcfcf"/>
<rect x="265.1" y="707.4" width="14.7" height="23.3" fill="#1c1c1e"/>
<rect x="268" y="710" width="8" height="18" fill="#333"/>
<rect x="286.2" y="713.9" width="11.3" height="15.9" fill="#232325"/>
<rect x="262.1" y="741.5" width="15.9" height="15.1" fill="#1f1f21" rx="1.5"/>
<circle cx="270" cy="749" r="4" fill="#2c2c2e"/>
<rect x="294" y="742.8" width="14.7" height="13.3" fill="#1e1f21"/>
<rect x="294" y="741.5" width="2" height="2" fill="#e89a5a"/>
<rect x="306" y="741.5" width="2" height="2" fill="#e89a5a"/>
<rect x="291.9" y="759.2" width="15.1" height="5.6" fill="#bdbdbd" rx="2.5"/>
<rect x="310.8" y="735" width="8.2" height="13.4" fill="#dcd2c6"/>
<circle cx="314.9" cy="741.7" r="1.8" fill="#fff"/>
<rect x="376" y="735" width="8.2" height="13.4" fill="#dcd2c6"/>
<circle cx="380.1" cy="741.7" r="1.8" fill="#fff"/>
<rect x="359.6" y="733.7" width="9.9" height="17.3" fill="#1e1f21"/>
<rect x="384" y="725" width="6" height="7" fill="#222"/>
<rect x="327.2" y="760.9" width="27.6" height="27.6" fill="#b6b9bb"/>
<rect x="374.3" y="770" width="17.2" height="10.3" fill="#1e1f21"/>
<rect x="374.3" y="790" width="17.2" height="9.5" fill="#1e1f21"/>
<circle cx="396.7" cy="751.2" r="3.9" fill="#2a2b2d"/>
<rect x="390" y="699" width="3" height="10" fill="#333"/>
<rect x="326" y="699" width="3" height="10" fill="#333"/>
<rect x="360.8" y="850.7" width="39.4" height="39.3" fill="#1eae74"/>
<rect x="363" y="859" width="1.4" height="26" fill="#bcd8c8" opacity="0.6"/>
<rect x="367.2" y="859" width="1.4" height="26" fill="#bcd8c8" opacity="0.6"/>
<rect x="371.4" y="859" width="1.4" height="26" fill="#bcd8c8" opacity="0.6"/>
<rect x="375.6" y="859" width="1.4" height="26" fill="#bcd8c8" opacity="0.6"/>
<rect x="379.8" y="859" width="1.4" height="26" fill="#bcd8c8" opacity="0.6"/>
<rect x="384" y="859" width="1.4" height="26" fill="#bcd8c8" opacity="0.6"/>
<rect x="388.2" y="859" width="1.4" height="26" fill="#bcd8c8" opacity="0.6"/>
<rect x="392.4" y="859" width="1.4" height="26" fill="#bcd8c8" opacity="0.6"/>
<rect x="396.6" y="859" width="1.4" height="26" fill="#bcd8c8" opacity="0.6"/>
<rect x="288.6" y="883.3" width="6.4" height="6.7" fill="#2a2b2d" rx="2"/>
<rect x="296.2" y="883.3" width="6.4" height="6.7" fill="#2a2b2d" rx="2"/>
<rect x="303.8" y="883.3" width="6.4" height="6.7" fill="#2a2b2d" rx="2"/>
<rect x="311.4" y="883.3" width="6.4" height="6.7" fill="#2a2b2d" rx="2"/>
<circle cx="273" cy="873" r="6.8" fill="#7a7a7a"/><circle cx="273" cy="873" r="4" fill="#b5b5b5"/>
<circle cx="262.2" cy="885.6" r="6.8" fill="#6a6a6a"/><circle cx="262.2" cy="885.6" r="4" fill="#a8a8a8"/>
<rect x="205.8" y="878.5" width="21.1" height="21.8" fill="#2a2b2d"/>
<circle cx="216.3" cy="889.4" r="7" fill="#3a3a3c"/>
<rect x="235.7" y="884.6" width="17" height="8.2" fill="#3c7ed0"/>
<rect x="235.7" y="894" width="10.2" height="13" fill="#e8e6e0"/>
<rect x="269.7" y="894.8" width="17" height="12.2" fill="#e8e0d4"/>
<rect x="318" y="896.9" width="25" height="10.1" fill="#2a2b2d"/>
<rect x="351.2" y="893.5" width="40.8" height="12.9" fill="#cfcfcf"/>
<rect x="353" y="896" width="37" height="8" fill="#222"/>
<rect x="304" y="863" width="10" height="10" fill="#1e1f21"/>
<rect x="325" y="865" width="9" height="9" fill="#1e1f21"/>
<rect x="283" y="862" width="6" height="6" fill="#222"/>
<rect x="240" y="822" width="10" height="6" fill="#1e1f21"/>
<rect x="268" y="829" width="9" height="10" fill="#1e1f21"/>
<rect x="289" y="841" width="8" height="8" fill="#222"/>
<rect x="340" y="855" width="7" height="7" fill="#222"/>
<rect x="344" y="828" width="4" height="9" fill="#222"/>
<rect x="388" y="830" width="4" height="6" fill="#222"/>
<rect x="237" y="851" width="14" height="6" fill="#222"/>
<rect x="237" y="866" width="14" height="6" fill="#222"/>
<rect x="186" y="879" width="9" height="7" fill="#222"/>
<rect x="198" y="895" width="12" height="4" fill="#222"/>
<rect x="385" y="818" width="6" height="8" fill="#2a2b2d" rx="3"/>
<rect x="395" y="824" width="4" height="10" fill="#222"/>
<rect x="347" y="809" width="4" height="28" fill="#e6e6e6" opacity="0.7"/>
<circle cx="354" cy="815" r="4" fill="#ddd"/><circle cx="354" cy="815" r="1.6" fill="#fff"/>
<circle cx="315.5" cy="808" r="3.5" fill="#e0d6cc"/><circle cx="315.5" cy="808" r="1.5" fill="#fff"/>
<rect x="276.782" y="685.62" width="1.4" height="1.4" fill="#0e8a58"/>
<rect x="263.46" y="695.987" width="4" height="2" fill="#1e1f21"/>
<rect x="262.985" y="692.036" width="2" height="1.4" fill="#0e8a58"/>
<rect x="282.622" y="701.844" width="1.4" height="2" fill="#0e8a58"/>
<rect x="294.391" y="704.745" width="4" height="4" fill="#cfd8d2"/>
<rect x="260.876" y="687.306" width="4" height="2" fill="#3a3b3d"/>
<rect x="282.31" y="694.976" width="4" height="2.5" fill="#0e8a58"/>
<rect x="305.335" y="686.337" width="4" height="4" fill="#0e8a58"/>
<rect x="268.897" y="684.338" width="1.4" height="4" fill="#1e1f21"/>
<rect x="293.903" y="693.914" width="4" height="3" fill="#3a3b3d"/>
<rect x="285.005" y="704.163" width="2.5" height="2.5" fill="#2a2b2d"/>
<rect x="304.074" y="698.776" width="2" height="1.4" fill="#0e8a58"/>
<rect x="275.414" y="693.883" width="2.5" height="3" fill="#3a3b3d"/>
<rect x="293.32" y="683.757" width="4" height="3" fill="#2a2b2d"/>
<rect x="301.914" y="685.648" width="3" height="3" fill="#1e1f21"/>
<rect x="313.797" y="683.863" width="4" height="4" fill="#3a3b3d"/>
<rect x="277.727" y="690.404" width="3" height="4" fill="#cfd8d2"/>
<rect x="261.988" y="684.246" width="2.5" height="3" fill="#0e8a58"/>
<rect x="296.521" y="683.456" width="2.5" height="4" fill="#0e8a58"/>
<rect x="305.672" y="688.83" width="3" height="2.5" fill="#1e1f21"/>
<rect x="312.558" y="690.531" width="4" height="1.4" fill="#cfd8d2"/>
<rect x="261.419" y="700.438" width="2" height="2" fill="#cfd8d2"/>
<rect x="343.786" y="756.143" width="1.4" height="2" fill="#cfd8d2"/>
<rect x="344.984" y="738.335" width="2" height="3" fill="#0e8a58"/>
<rect x="331.183" y="742.459" width="2.5" height="3" fill="#2a2b2d"/>
<rect x="316.903" y="735.287" width="2" height="2" fill="#1e1f21"/>
<rect x="354.316" y="747.674" width="2.5" height="2.5" fill="#1e1f21"/>
<rect x="316.316" y="746.038" width="4" height="4" fill="#3a3b3d"/>
<rect x="406.747" y="750.715" width="4" height="4" fill="#0e8a58"/>
<rect x="375.734" y="731.62" width="4" height="3" fill="#cfd8d2"/>
<rect x="344.686" y="733.106" width="3" height="1.4" fill="#2a2b2d"/>
<rect x="307.543" y="736.263" width="2" height="1.4" fill="#3a3b3d"/>
<rect x="367.281" y="733.071" width="4" height="2" fill="#0e8a58"/>
<rect x="311.364" y="740.908" width="1.4" height="1.4" fill="#2a2b2d"/>
<rect x="368.776" y="734.457" width="2.5" height="2.5" fill="#0e8a58"/>
<rect x="340.786" y="733.685" width="3" height="3" fill="#cfd8d2"/>
<rect x="354.189" y="732.577" width="1.4" height="2.5" fill="#0e8a58"/>
<rect x="329.653" y="754.866" width="2" height="4" fill="#1e1f21"/>
<rect x="322.984" y="758.561" width="2.5" height="2" fill="#0e8a58"/>
<rect x="360.835" y="730.811" width="4" height="2.5" fill="#0e8a58"/>
<rect x="396.692" y="750.886" width="2.5" height="4" fill="#3a3b3d"/>
<rect x="401.725" y="740.671" width="2" height="4" fill="#0e8a58"/>
<rect x="387.254" y="739.89" width="2" height="4" fill="#2a2b2d"/>
<rect x="390.281" y="754.55" width="2" height="2" fill="#0e8a58"/>
<rect x="355.192" y="751.93" width="1.4" height="2.5" fill="#cfd8d2"/>
<rect x="329.028" y="750.776" width="2.5" height="3" fill="#0e8a58"/>
<rect x="410.66" y="758.65" width="2.5" height="1.4" fill="#2a2b2d"/>
<rect x="311.442" y="744.102" width="2.5" height="2" fill="#cfd8d2"/>
<rect x="369.895" y="757.009" width="1.4" height="3" fill="#0e8a58"/>
<rect x="338.529" y="749.294" width="1.4" height="3" fill="#0e8a58"/>
<rect x="384.016" y="744.341" width="2" height="3" fill="#0e8a58"/>
<rect x="337.242" y="754.025" width="3" height="3" fill="#cfd8d2"/>
<rect x="383.256" y="795.095" width="2" height="2" fill="#2a2b2d"/>
<rect x="303.085" y="825.449" width="3" height="2" fill="#0e8a58"/>
<rect x="392.569" y="848.818" width="2.5" height="2" fill="#0e8a58"/>
<rect x="361.408" y="791.284" width="1.4" height="4" fill="#0e8a58"/>
<rect x="404.566" y="816.029" width="2" height="2" fill="#1e1f21"/>
<rect x="328.205" y="807.578" width="2" height="4" fill="#3a3b3d"/>
<rect x="329.049" y="815.141" width="2" height="1.4" fill="#0e8a58"/>
<rect x="339.624" y="817.49" width="4" height="4" fill="#cfd8d2"/>
<rect x="392.64" y="842.69" width="2" height="4" fill="#2a2b2d"/>
<rect x="358.633" y="791.122" width="3" height="2" fill="#0e8a58"/>
<rect x="300.44" y="837.95" width="2" height="2" fill="#cfd8d2"/>
<rect x="369.339" y="797.22" width="1.4" height="2.5" fill="#0e8a58"/>
<rect x="358.055" y="823.327" width="1.4" height="4" fill="#1e1f21"/>
<rect x="327.831" y="806.615" width="1.4" height="4" fill="#cfd8d2"/>
<rect x="362.914" y="835.6" width="1.4" height="3" fill="#3a3b3d"/>
<rect x="368.603" y="820.333" width="4" height="2" fill="#0e8a58"/>
<rect x="331.045" y="820.489" width="3" height="4" fill="#2a2b2d"/>
<rect x="378.312" y="842.592" width="2.5" height="4" fill="#2a2b2d"/>
<rect x="394.08" y="798.228" width="1.4" height="3" fill="#cfd8d2"/>
<rect x="335.39" y="830.269" width="3" height="1.4" fill="#2a2b2d"/>
<rect x="374.981" y="837.036" width="2" height="2.5" fill="#2a2b2d"/>
<rect x="328.348" y="798.235" width="3" height="2" fill="#0e8a58"/>
<rect x="406.68" y="813.895" width="3" height="2" fill="#0e8a58"/>
<rect x="393.234" y="799.688" width="3" height="4" fill="#cfd8d2"/>
<rect x="337.981" y="801.745" width="2.5" height="1.4" fill="#0e8a58"/>
<rect x="340.987" y="810.279" width="3" height="3" fill="#0e8a58"/>
<rect x="302.025" y="809.89" width="4" height="2.5" fill="#0e8a58"/>
<rect x="407.607" y="796.771" width="2" height="1.4" fill="#1e1f21"/>
<rect x="329.743" y="792.375" width="2" height="2.5" fill="#2a2b2d"/>
<rect x="391.815" y="840.975" width="2.5" height="3" fill="#2a2b2d"/>
<rect x="360.099" y="820.887" width="3" height="2.5" fill="#1e1f21"/>
<rect x="331.255" y="837.975" width="2" height="3" fill="#1e1f21"/>
<rect x="330.119" y="791.01" width="1.4" height="2.5" fill="#1e1f21"/>
<rect x="368.116" y="803.344" width="2.5" height="1.4" fill="#cfd8d2"/>
<rect x="301.293" y="849.658" width="3" height="2.5" fill="#0e8a58"/>
<rect x="314.473" y="821.615" width="2" height="1.4" fill="#2a2b2d"/>
<rect x="329.332" y="800.869" width="2.5" height="2.5" fill="#0e8a58"/>
<rect x="385.064" y="807.398" width="4" height="2" fill="#3a3b3d"/>
<rect x="338.864" y="791.09" width="2.5" height="1.4" fill="#1e1f21"/>
<rect x="302.065" y="820.339" width="2" height="4" fill="#cfd8d2"/>
<rect x="327.516" y="816.823" width="3" height="3" fill="#0e8a58"/>
<rect x="393.477" y="813.585" width="4" height="2.5" fill="#0e8a58"/>
<rect x="324.1" y="803.774" width="2" height="2" fill="#cfd8d2"/>
<rect x="410.817" y="848.913" width="2" height="1.4" fill="#1e1f21"/>
<rect x="370.05" y="842.791" width="3" height="2" fill="#1e1f21"/>
<rect x="263.871" y="869.682" width="4" height="2.5" fill="#0e8a58"/>
<rect x="280.432" y="834.049" width="3" height="2" fill="#2a2b2d"/>
<rect x="283.249" y="815.235" width="2.5" height="2.5" fill="#0e8a58"/>
<rect x="288.971" y="817.239" width="2.5" height="2" fill="#3a3b3d"/>
<rect x="274.211" y="836.797" width="1.4" height="3" fill="#3a3b3d"/>
<rect x="307.79" y="828.064" width="4" height="1.4" fill="#1e1f21"/>
<rect x="282.738" y="820.834" width="3" height="4" fill="#1e1f21"/>
<rect x="296.368" y="834.477" width="2" height="1.4" fill="#0e8a58"/>
<rect x="355.552" y="870.461" width="2" height="4" fill="#cfd8d2"/>
<rect x="335.253" y="861.844" width="3" height="2" fill="#3a3b3d"/>
<rect x="331.036" y="856.809" width="1.4" height="4" fill="#0e8a58"/>
<rect x="300.071" y="860.568" width="4" height="2" fill="#0e8a58"/>
<rect x="334.051" y="851.951" width="1.4" height="4" fill="#0e8a58"/>
<rect x="326.704" y="860.066" width="2" height="1.4" fill="#1e1f21"/>
<rect x="259.396" y="856.413" width="1.4" height="3" fill="#cfd8d2"/>
<rect x="313.645" y="855.805" width="4" height="2" fill="#cfd8d2"/>
<rect x="282.698" y="844.702" width="1.4" height="4" fill="#0e8a58"/>
<rect x="264.654" y="849.189" width="3" height="2.5" fill="#1e1f21"/>
<rect x="343.844" y="830.261" width="2" height="2" fill="#0e8a58"/>
<rect x="323.243" y="844.922" width="3" height="1.4" fill="#cfd8d2"/>
<rect x="350.599" y="833.676" width="1.4" height="4" fill="#0e8a58"/>
<rect x="322.49" y="820.036" width="2" height="2.5" fill="#3a3b3d"/>
<rect x="323.411" y="860.038" width="4" height="4" fill="#2a2b2d"/>
<rect x="256.309" y="818.943" width="2.5" height="1.4" fill="#0e8a58"/>
<rect x="277.858" y="846.825" width="4" height="2.5" fill="#cfd8d2"/>
<rect x="303.919" y="864.866" width="4" height="2" fill="#3a3b3d"/>
<rect x="357.703" y="875.857" width="1.4" height="2.5" fill="#cfd8d2"/>
<rect x="263.029" y="847.93" width="3" height="2.5" fill="#cfd8d2"/>
<rect x="277.033" y="876.463" width="2" height="1.4" fill="#0e8a58"/>
<rect x="264.482" y="863.587" width="2.5" height="2.5" fill="#2a2b2d"/>
<rect x="318.353" y="856.058" width="2.5" height="1.4" fill="#0e8a58"/>
<rect x="293.345" y="847.363" width="3" height="3" fill="#1e1f21"/>
<rect x="271.702" y="876.747" width="3" height="3" fill="#3a3b3d"/>
<rect x="331.354" y="842.052" width="3" height="2.5" fill="#1e1f21"/>
<rect x="343.224" y="815.113" width="2.5" height="3" fill="#1e1f21"/>
<rect x="353.688" y="827.723" width="1.4" height="2.5" fill="#3a3b3d"/>
<rect x="294.083" y="840.538" width="4" height="1.4" fill="#3a3b3d"/>
<rect x="352.169" y="864.118" width="1.4" height="2.5" fill="#1e1f21"/>
<rect x="260.42" y="858.029" width="2" height="2" fill="#3a3b3d"/>
<rect x="300.805" y="835.514" width="2.5" height="3" fill="#1e1f21"/>
<rect x="340.256" y="856.008" width="4" height="4" fill="#2a2b2d"/>
<rect x="330.555" y="818.216" width="3" height="3" fill="#0e8a58"/>
<rect x="334.03" y="856.892" width="2.5" height="3" fill="#1e1f21"/>
<rect x="350.75" y="850.757" width="2" height="3" fill="#cfd8d2"/>
<rect x="291.085" y="834.355" width="2.5" height="3" fill="#0e8a58"/>
<rect x="206.707" y="864.495" width="3" height="1.4" fill="#2a2b2d"/>
<rect x="235.024" y="852.255" width="4" height="3" fill="#0e8a58"/>
<rect x="205.402" y="877.188" width="3" height="3" fill="#2a2b2d"/>
<rect x="228.345" y="857.323" width="2" height="2.5" fill="#0e8a58"/>
<rect x="196.377" y="857.174" width="2.5" height="4" fill="#2a2b2d"/>
<rect x="252.108" y="872.49" width="3" height="3" fill="#cfd8d2"/>
<rect x="242.209" y="856.3" width="2.5" height="2.5" fill="#1e1f21"/>
<rect x="224.87" y="867.228" width="2.5" height="2" fill="#0e8a58"/>
<rect x="225.238" y="868.889" width="2" height="1.4" fill="#3a3b3d"/>
<rect x="252.775" y="861.537" width="3" height="3" fill="#3a3b3d"/>
<rect x="249.408" y="876.187" width="1.4" height="2" fill="#1e1f21"/>
<rect x="219.764" y="872.911" width="3" height="4" fill="#cfd8d2"/>
<rect x="190.013" y="861.746" width="4" height="3" fill="#cfd8d2"/>
<rect x="207.393" y="853.271" width="2" height="2" fill="#0e8a58"/>
<rect x="202.892" y="875.049" width="3" height="1.4" fill="#0e8a58"/>
<rect x="188.265" y="872.038" width="2" height="2" fill="#0e8a58"/>
<rect x="198.994" y="890.074" width="2.5" height="2" fill="#0e8a58"/>
<rect x="148.885" y="889.816" width="1.4" height="1.4" fill="#1e1f21"/>
<rect x="152.526" y="898.419" width="2" height="3" fill="#3a3b3d"/>
<rect x="146.769" y="888.83" width="1.4" height="4" fill="#3a3b3d"/>
<rect x="204.728" y="879.801" width="2.5" height="2" fill="#cfd8d2"/>
<rect x="169.471" y="887.316" width="1.4" height="3" fill="#0e8a58"/>
<rect x="178.724" y="873.549" width="2" height="3" fill="#0e8a58"/>
<rect x="178.538" y="874.271" width="2" height="3" fill="#3a3b3d"/>
<rect x="147.009" y="872.955" width="2.5" height="3" fill="#3a3b3d"/>
<rect x="181.193" y="877.546" width="2.5" height="4" fill="#1e1f21"/>
<rect x="145.391" y="899.156" width="2.5" height="2" fill="#2a2b2d"/>
<rect x="164.884" y="879.421" width="2.5" height="1.4" fill="#0e8a58"/>
<rect x="375.797" y="735.867" width="2" height="3" fill="#cfd8d2"/>
<rect x="395.699" y="730.37" width="4" height="2" fill="#cfd8d2"/>
<rect x="354.609" y="728.992" width="4" height="2" fill="#cfd8d2"/>
<rect x="354.488" y="730.526" width="3" height="3" fill="#0e8a58"/>
<rect x="394.412" y="758.774" width="1.4" height="2" fill="#3a3b3d"/>
<rect x="361.153" y="755.404" width="4" height="3" fill="#1e1f21"/>
<rect x="366.968" y="758.466" width="2.5" height="2.5" fill="#cfd8d2"/>
<rect x="360.125" y="728.121" width="2.5" height="1.4" fill="#3a3b3d"/>
<rect x="372.169" y="765.177" width="4" height="2" fill="#cfd8d2"/>
<rect x="369.118" y="762.506" width="3" height="1.4" fill="#1e1f21"/>
<rect x="385.852" y="736.22" width="4" height="3" fill="#2a2b2d"/>
<rect x="367.519" y="758.967" width="3" height="1.4" fill="#0e8a58"/>
<rect x="371.718" y="762.097" width="3" height="1.4" fill="#cfd8d2"/>
<rect x="353.673" y="730.628" width="1.4" height="2.5" fill="#2a2b2d"/>
<rect x="342.419" y="854.522" width="2.5" height="2.5" fill="#3a3b3d"/>
<rect x="330.049" y="857.503" width="1.4" height="2.5" fill="#0e8a58"/>
<rect x="341.499" y="823.09" width="2.5" height="2.5" fill="#1e1f21"/>
<rect x="341.647" y="838.161" width="1.4" height="1.4" fill="#2a2b2d"/>
<rect x="323.218" y="844.641" width="3" height="3" fill="#3a3b3d"/>
<rect x="347.406" y="849.999" width="2" height="3" fill="#2a2b2d"/>
<rect x="320.261" y="856.277" width="2.5" height="2" fill="#0e8a58"/>
<rect x="327.084" y="852.507" width="3" height="2.5" fill="#0e8a58"/>
<rect x="322.37" y="816.655" width="2" height="2" fill="#cfd8d2"/>
<rect x="321.942" y="807.829" width="4" height="4" fill="#3a3b3d"/>
<rect x="322.857" y="800.351" width="0.7" height="8.657" fill="#d8efe4" opacity="0.55"/>
<rect x="331.176" y="806.288" width="9.119" height="0.7" fill="#d8efe4" opacity="0.55"/>
<rect x="349.482" y="850.49" width="7.034" height="0.7" fill="#d8efe4" opacity="0.55"/>
<rect x="268.601" y="854.074" width="0.7" height="4.419" fill="#d8efe4" opacity="0.55"/>
<rect x="402.329" y="887.423" width="0.7" height="10.156" fill="#d8efe4" opacity="0.55"/>
<rect x="278.624" y="683.225" width="0.7" height="4.596" fill="#d8efe4" opacity="0.55"/>
<rect x="283.531" y="732.018" width="8.639" height="0.7" fill="#d8efe4" opacity="0.55"/>
<rect x="321.08" y="861.122" width="0.7" height="10.403" fill="#d8efe4" opacity="0.55"/>
<rect x="329.966" y="822.427" width="6.782" height="0.7" fill="#d8efe4" opacity="0.55"/>
<rect x="404.648" y="894.074" width="0.7" height="11.078" fill="#d8efe4" opacity="0.55"/>
<rect x="302.292" y="729.378" width="4.702" height="0.7" fill="#d8efe4" opacity="0.55"/>
<rect x="369.943" y="766.086" width="0.7" height="7.865" fill="#d8efe4" opacity="0.55"/>
<rect x="398.706" y="862.172" width="6.097" height="0.7" fill="#d8efe4" opacity="0.55"/>
<rect x="391.541" y="781.047" width="0.7" height="7.974" fill="#d8efe4" opacity="0.55"/>
<rect x="265.956" y="815.333" width="0.7" height="6.698" fill="#d8efe4" opacity="0.55"/>
<rect x="268.072" y="751.506" width="0.7" height="11.58" fill="#d8efe4" opacity="0.55"/>
<rect x="272.699" y="732.973" width="4.599" height="0.7" fill="#d8efe4" opacity="0.55"/>
<rect x="374.553" y="718.201" width="0.7" height="8.474" fill="#d8efe4" opacity="0.55"/>
<rect x="283.603" y="837.357" width="10.437" height="0.7" fill="#d8efe4" opacity="0.55"/>
<rect x="272.476" y="770.462" width="6.698" height="0.7" fill="#d8efe4" opacity="0.55"/>
<rect x="400.639" y="852.733" width="12.849" height="0.7" fill="#d8efe4" opacity="0.55"/>
<rect x="286.607" y="764.769" width="0.7" height="10.418" fill="#d8efe4" opacity="0.55"/>
<rect x="270.05" y="892.7" width="6.583" height="0.7" fill="#d8efe4" opacity="0.55"/>
<rect x="370.903" y="750.725" width="4.734" height="0.7" fill="#d8efe4" opacity="0.55"/>
<rect x="268.518" y="805.288" width="10.013" height="0.7" fill="#d8efe4" opacity="0.55"/>
<rect x="310.756" y="777.44" width="0.7" height="8.837" fill="#d8efe4" opacity="0.55"/>
<rect x="341.186" y="866.303" width="5.541" height="0.7" fill="#d8efe4" opacity="0.55"/>
<rect x="391.264" y="855.827" width="5.898" height="0.7" fill="#d8efe4" opacity="0.55"/>
<rect x="365.914" y="882.187" width="13.501" height="0.7" fill="#d8efe4" opacity="0.55"/>
<rect x="387.328" y="809.76" width="5.038" height="0.7" fill="#d8efe4" opacity="0.55"/>
<rect x="260.804" y="886.977" width="11.046" height="0.7" fill="#d8efe4" opacity="0.55"/>
<rect x="293.547" y="857.099" width="0.7" height="6.934" fill="#d8efe4" opacity="0.55"/>
<rect x="281.315" y="834.876" width="6.284" height="0.7" fill="#d8efe4" opacity="0.55"/>
<rect x="338.905" y="863.266" width="0.7" height="6.802" fill="#d8efe4" opacity="0.55"/>
<rect x="392.604" y="723.855" width="6.692" height="0.7" fill="#d8efe4" opacity="0.55"/>
<rect x="321.856" y="692.998" width="7.688" height="0.7" fill="#d8efe4" opacity="0.55"/>
<rect x="340.825" y="708.289" width="12.909" height="0.7" fill="#d8efe4" opacity="0.55"/>
<rect x="402.074" y="821.24" width="0.7" height="9.844" fill="#d8efe4" opacity="0.55"/>
<rect x="276.052" y="687.542" width="13.102" height="0.7" fill="#d8efe4" opacity="0.55"/>
<rect x="360.146" y="886.996" width="10.362" height="0.7" fill="#d8efe4" opacity="0.55"/>
<rect x="327.335" y="837.057" width="13.994" height="0.7" fill="#d8efe4" opacity="0.55"/>
<rect x="266.289" y="797.411" width="0.7" height="13.002" fill="#d8efe4" opacity="0.55"/>
<rect x="365.563" y="831.293" width="0.7" height="13.15" fill="#d8efe4" opacity="0.55"/>
<rect x="307.775" y="827.306" width="0.7" height="12.711" fill="#d8efe4" opacity="0.55"/>
<rect x="317.573" y="849.964" width="0.7" height="9.728" fill="#d8efe4" opacity="0.55"/>
<rect x="348.744" y="762.202" width="0.7" height="10.089" fill="#d8efe4" opacity="0.55"/>
<rect x="267.03" y="817.472" width="0.7" height="12.798" fill="#d8efe4" opacity="0.55"/>
<rect x="364.231" y="763.514" width="0.7" height="9.81" fill="#d8efe4" opacity="0.55"/>
<rect x="321.078" y="860.25" width="11.502" height="0.7" fill="#d8efe4" opacity="0.55"/>
<rect x="259.468" y="809.276" width="6.302" height="0.7" fill="#d8efe4" opacity="0.55"/>
<rect x="359.75" y="786.909" width="0.7" height="13.205" fill="#d8efe4" opacity="0.55"/>
<rect x="293.375" y="682.431" width="10.781" height="0.7" fill="#d8efe4" opacity="0.55"/>
<rect x="285.386" y="716.466" width="0.7" height="10.6" fill="#d8efe4" opacity="0.55"/>
<rect x="321.29" y="871.721" width="10.659" height="0.7" fill="#d8efe4" opacity="0.55"/>
<rect x="284.776" y="772.642" width="0.7" height="13.142" fill="#d8efe4" opacity="0.55"/>
<rect x="387.04" y="762.65" width="0.7" height="7.165" fill="#d8efe4" opacity="0.55"/>
<rect x="275.426" y="786.74" width="0.7" height="12.487" fill="#d8efe4" opacity="0.55"/>
<rect x="361.683" y="884.25" width="5.691" height="0.7" fill="#d8efe4" opacity="0.55"/>
<rect x="322.597" y="739.16" width="8.14" height="0.7" fill="#d8efe4" opacity="0.55"/>
<rect x="348.86" y="786.183" width="12.391" height="0.7" fill="#d8efe4" opacity="0.55"/>
<rect x="402.305" y="777.283" width="4.315" height="0.7" fill="#d8efe4" opacity="0.55"/>
<rect x="385.924" y="688.92" width="0.7" height="9.706" fill="#d8efe4" opacity="0.55"/>
<rect x="301.355" y="850.175" width="5.359" height="0.7" fill="#d8efe4" opacity="0.55"/>
<rect x="323.225" y="685.316" width="0.7" height="6.374" fill="#d8efe4" opacity="0.55"/>
<rect x="276.131" y="690.093" width="0.7" height="8.465" fill="#d8efe4" opacity="0.55"/>
<rect x="349.495" y="820.834" width="0.7" height="13.585" fill="#d8efe4" opacity="0.55"/>
<rect x="357.674" y="722.858" width="5.787" height="0.7" fill="#d8efe4" opacity="0.55"/>
<rect x="256.615" y="781.523" width="0.7" height="5.791" fill="#d8efe4" opacity="0.55"/>
<rect x="295.853" y="754.334" width="0.7" height="9.204" fill="#d8efe4" opacity="0.55"/>
<rect x="347.167" y="842.584" width="11.919" height="0.7" fill="#d8efe4" opacity="0.55"/>
<rect x="228.561" y="717.442" width="9.528" height="0.7" fill="#d8efe4" opacity="0.5"/>
<rect x="206.13" y="725.982" width="6.175" height="0.7" fill="#d8efe4" opacity="0.5"/>
<rect x="194.317" y="881.993" width="5.638" height="0.7" fill="#d8efe4" opacity="0.5"/>
<rect x="187.395" y="875.864" width="8.577" height="0.7" fill="#d8efe4" opacity="0.5"/>
<rect x="233.199" y="792.742" width="7.559" height="0.7" fill="#d8efe4" opacity="0.5"/>
<rect x="142.997" y="844.387" width="8.728" height="0.7" fill="#d8efe4" opacity="0.5"/>
<rect x="196.277" y="843.532" width="4.493" height="0.7" fill="#d8efe4" opacity="0.5"/>
<rect x="227.798" y="896.099" width="9.842" height="0.7" fill="#d8efe4" opacity="0.5"/>
<rect x="183.509" y="858.157" width="5.243" height="0.7" fill="#d8efe4" opacity="0.5"/>
<rect x="229.019" y="871.157" width="5.44" height="0.7" fill="#d8efe4" opacity="0.5"/>
<rect x="128.098" y="788.18" width="6.852" height="0.7" fill="#d8efe4" opacity="0.5"/>
<rect x="211.724" y="797.489" width="3.199" height="0.7" fill="#d8efe4" opacity="0.5"/>
<rect x="216.715" y="712.811" width="8.599" height="0.7" fill="#d8efe4" opacity="0.5"/>
<rect x="139.093" y="767.001" width="8.515" height="0.7" fill="#d8efe4" opacity="0.5"/>
<rect x="135.141" y="729.735" width="6.616" height="0.7" fill="#d8efe4" opacity="0.5"/>
<rect x="206.275" y="867.995" width="7.826" height="0.7" fill="#d8efe4" opacity="0.5"/>
<rect x="233.381" y="798.516" width="9.644" height="0.7" fill="#d8efe4" opacity="0.5"/>
<rect x="128.495" y="744.283" width="6.687" height="0.7" fill="#d8efe4" opacity="0.5"/>
<rect x="153.401" y="845.769" width="7.472" height="0.7" fill="#d8efe4" opacity="0.5"/>
<rect x="181.779" y="868.725" width="6.92" height="0.7" fill="#d8efe4" opacity="0.5"/>
<rect x="156.027" y="776.243" width="8.917" height="0.7" fill="#d8efe4" opacity="0.5"/>
<rect x="227.864" y="741.648" width="8.955" height="0.7" fill="#d8efe4" opacity="0.5"/>
<rect x="236.15" y="804.845" width="7.011" height="0.7" fill="#d8efe4" opacity="0.5"/>
<rect x="142.518" y="807.181" width="6.522" height="0.7" fill="#d8efe4" opacity="0.5"/>
<rect x="191.838" y="705.551" width="9.786" height="0.7" fill="#d8efe4" opacity="0.5"/>
</svg></body></html>
